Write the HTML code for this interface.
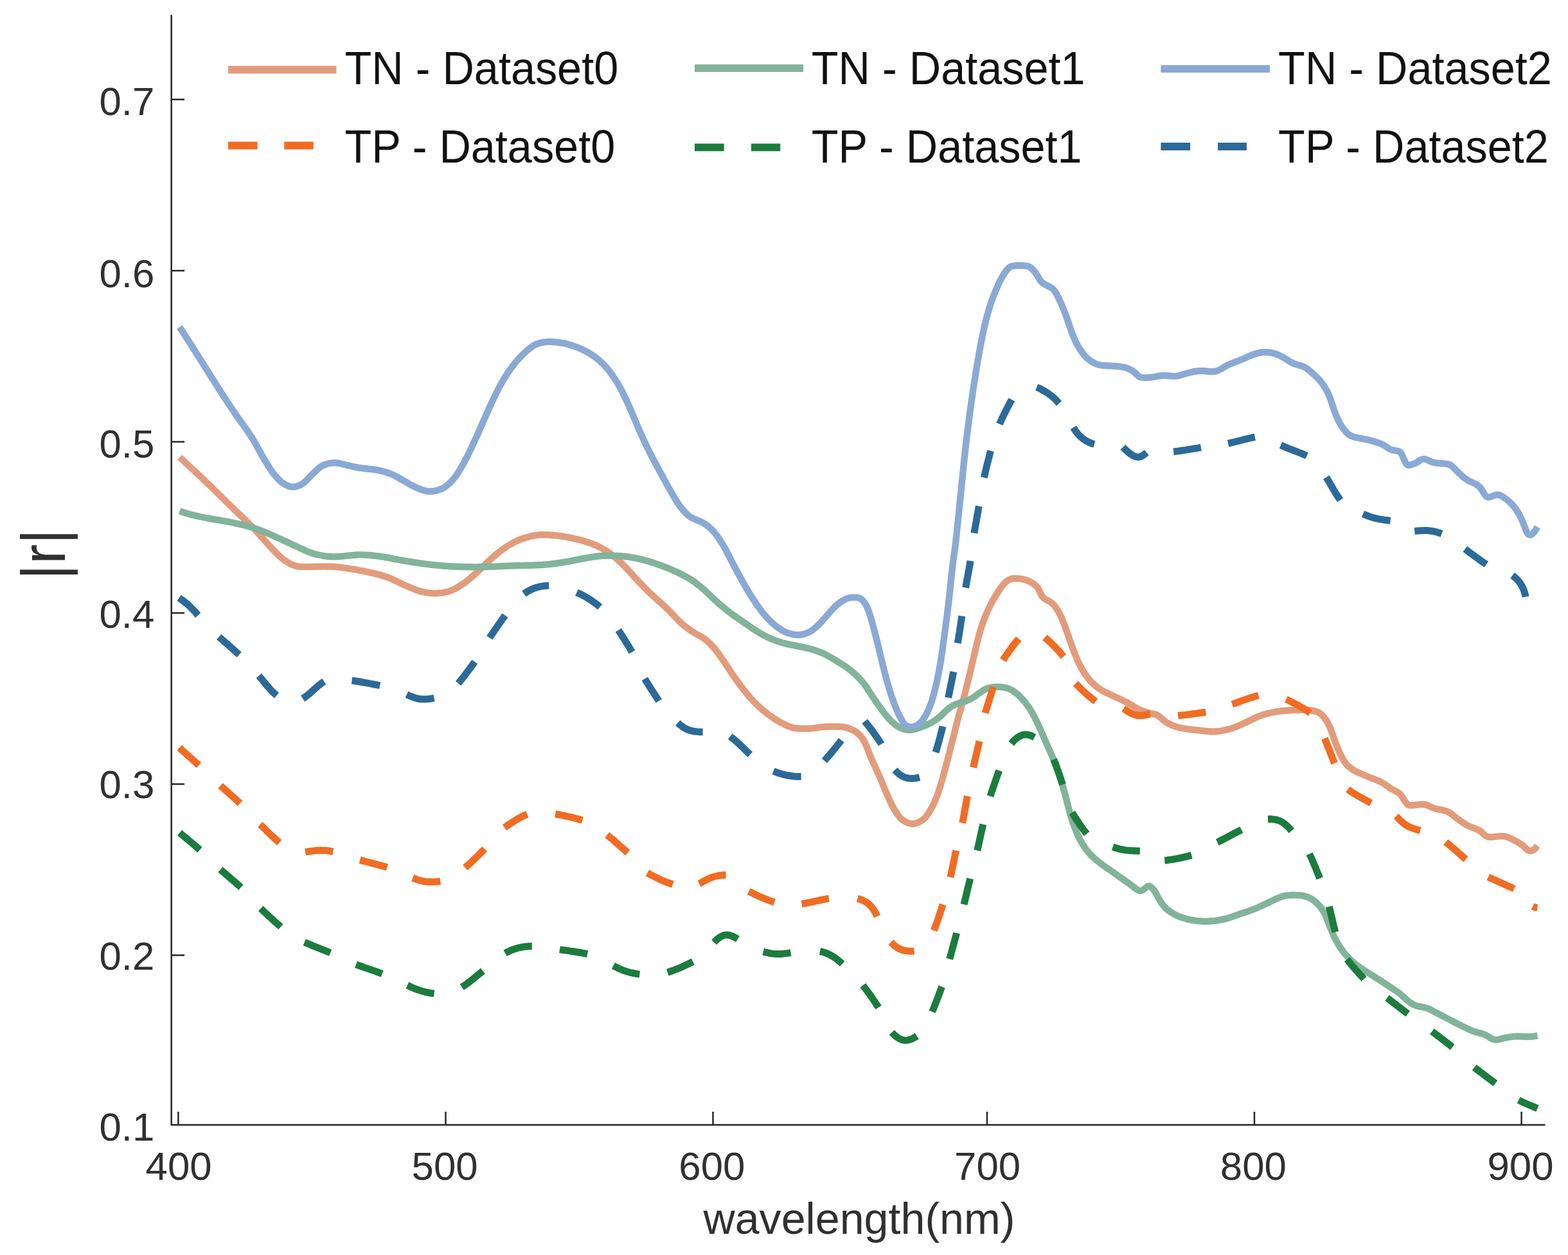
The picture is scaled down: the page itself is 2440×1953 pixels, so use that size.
<!DOCTYPE html>
<html lang="en"><head><meta charset="utf-8"><title>|r| vs wavelength</title>
<style>
html,body{margin:0;padding:0;background:#fff;}
body{width:2440px;height:1953px;overflow:hidden;font-family:"Liberation Sans",sans-serif;}
svg{display:block;}
</style></head><body>
<svg width="2440" height="1953" viewBox="0 0 2440 1953">
<rect width="2440" height="1953" fill="#fff"/>
<g fill="none" stroke-width="11.0" stroke-linecap="butt" stroke-linejoin="round">
<path stroke="#E29C7C" stroke-width="10.4" d="M279.5,711.5 L281.3,713.2 L283.2,714.9 L285.1,716.6 L286.9,718.3 L288.7,720.0 L290.6,721.7 L292.4,723.4 L294.3,725.2 L296.1,726.9 L297.9,728.6 L299.8,730.3 L301.6,732.0 L303.4,733.7 L305.3,735.4 L307.1,737.1 L308.9,738.9 L310.7,740.6 L312.5,742.3 L314.4,744.0 L316.2,745.7 L318.0,747.4 L319.8,749.2 L321.6,750.9 L323.4,752.6 L325.2,754.3 L327.0,756.0 L328.8,757.8 L330.6,759.5 L332.4,761.2 L334.1,763.0 L335.9,764.7 L337.7,766.5 L339.5,768.2 L341.2,770.0 L343.0,771.7 L344.8,773.5 L346.6,775.2 L348.3,777.0 L350.1,778.7 L351.9,780.4 L353.6,782.2 L355.4,783.9 L357.2,785.7 L359.0,787.4 L360.7,789.2 L362.5,790.9 L364.3,792.7 L366.1,794.4 L367.9,796.1 L369.7,797.9 L371.5,799.6 L373.3,801.3 L375.1,803.0 L376.9,804.8 L378.7,806.5 L380.5,808.2 L382.3,809.9 L384.1,811.7 L385.9,813.4 L387.7,815.1 L389.4,816.9 L391.2,818.7 L393.0,820.4 L394.7,822.2 L396.4,824.0 L398.2,825.9 L399.9,827.7 L401.6,829.5 L403.2,831.4 L404.9,833.3 L406.6,835.2 L408.3,837.0 L409.9,838.9 L411.6,840.8 L413.3,842.7 L415.0,844.6 L416.7,846.5 L418.4,848.3 L420.1,850.2 L421.8,852.0 L423.5,853.9 L425.3,855.8 L427.0,857.6 L428.8,859.4 L430.5,861.2 L432.3,862.9 L434.2,864.7 L436.0,866.3 L437.9,868.0 L439.8,869.6 L441.7,871.1 L443.7,872.6 L445.7,874.0 L447.8,875.3 L449.9,876.5 L452.1,877.7 L454.3,878.7 L456.6,879.6 L458.9,880.4 L461.3,881.0 L463.7,881.4 L466.2,881.7 L468.7,881.9 L471.2,882.0 L473.7,882.1 L476.3,882.1 L478.8,882.1 L481.3,882.1 L483.9,882.0 L486.5,881.9 L489.0,881.8 L491.6,881.7 L494.1,881.7 L496.6,881.6 L499.1,881.6 L501.6,881.6 L504.1,881.6 L506.6,881.6 L509.1,881.7 L511.6,881.7 L514.1,881.8 L516.6,881.8 L519.0,881.9 L521.5,882.0 L524.0,882.2 L526.4,882.5 L528.9,882.7 L531.3,883.1 L533.8,883.4 L536.3,883.8 L538.7,884.1 L541.2,884.5 L543.6,884.9 L546.1,885.3 L548.5,885.6 L551.0,886.0 L553.5,886.4 L555.9,886.9 L558.4,887.3 L560.9,887.8 L563.3,888.2 L565.8,888.7 L568.2,889.2 L570.7,889.8 L573.2,890.3 L575.6,890.8 L578.1,891.4 L580.5,891.9 L583.0,892.5 L585.4,893.1 L587.9,893.7 L590.3,894.4 L592.7,895.0 L595.1,895.7 L597.5,896.5 L599.9,897.2 L602.2,898.1 L604.6,898.9 L606.9,899.9 L609.2,900.8 L611.5,901.9 L613.7,902.9 L616.0,904.0 L618.3,905.1 L620.5,906.2 L622.8,907.3 L625.0,908.4 L627.3,909.4 L629.6,910.5 L631.9,911.5 L634.2,912.5 L636.5,913.5 L638.8,914.5 L641.1,915.5 L643.4,916.4 L645.7,917.3 L648.0,918.2 L650.4,919.0 L652.8,919.7 L655.2,920.4 L657.6,921.0 L660.0,921.5 L662.5,922.0 L665.0,922.4 L667.4,922.8 L670.0,923.1 L672.5,923.3 L675.0,923.4 L677.5,923.5 L680.0,923.4 L682.5,923.2 L685.0,922.9 L687.5,922.6 L690.0,922.1 L692.4,921.6 L694.8,921.1 L697.2,920.5 L699.6,919.8 L701.9,919.0 L704.2,918.1 L706.4,917.1 L708.6,915.9 L710.8,914.7 L713.0,913.4 L715.1,912.1 L717.2,910.7 L719.3,909.3 L721.4,907.9 L723.4,906.5 L725.4,905.0 L727.4,903.4 L729.3,901.9 L731.3,900.3 L733.2,898.6 L735.1,897.0 L737.0,895.3 L738.9,893.6 L740.7,891.9 L742.6,890.2 L744.5,888.4 L746.3,886.7 L748.2,885.0 L750.0,883.3 L751.8,881.5 L753.6,879.8 L755.4,878.0 L757.3,876.3 L759.1,874.6 L760.9,872.8 L762.7,871.1 L764.5,869.4 L766.4,867.7 L768.3,866.1 L770.2,864.5 L772.1,862.9 L774.0,861.3 L776.0,859.7 L777.9,858.2 L779.9,856.7 L781.9,855.2 L783.9,853.7 L786.0,852.3 L788.0,850.9 L790.1,849.6 L792.2,848.3 L794.4,847.0 L796.6,845.8 L798.8,844.6 L801.0,843.4 L803.2,842.3 L805.5,841.2 L807.8,840.2 L810.1,839.3 L812.4,838.4 L814.8,837.7 L817.2,837.0 L819.6,836.2 L822.0,835.6 L824.4,834.9 L826.9,834.3 L829.3,833.8 L831.8,833.3 L834.3,832.9 L836.8,832.6 L839.2,832.4 L841.7,832.3 L844.2,832.2 L846.7,832.2 L849.2,832.2 L851.7,832.3 L854.2,832.4 L856.7,832.6 L859.2,832.8 L861.7,833.0 L864.2,833.3 L866.7,833.5 L869.1,833.8 L871.6,834.1 L874.1,834.5 L876.6,834.8 L879.1,835.2 L881.6,835.7 L884.0,836.1 L886.5,836.6 L889.0,837.1 L891.4,837.6 L893.9,838.2 L896.3,838.8 L898.8,839.3 L901.2,839.9 L903.6,840.6 L906.1,841.3 L908.5,842.0 L910.9,842.7 L913.3,843.4 L915.7,844.2 L918.0,845.0 L920.4,845.9 L922.7,846.8 L925.0,847.7 L927.3,848.6 L929.6,849.7 L931.8,850.7 L934.0,851.9 L936.2,853.0 L938.4,854.2 L940.6,855.5 L942.7,856.8 L944.8,858.1 L946.9,859.5 L948.9,860.9 L950.9,862.3 L952.8,863.8 L954.8,865.4 L956.7,867.0 L958.6,868.6 L960.5,870.3 L962.3,872.0 L964.2,873.7 L966.0,875.4 L967.8,877.1 L969.6,878.9 L971.3,880.6 L973.1,882.4 L974.8,884.3 L976.5,886.1 L978.2,888.0 L979.9,889.8 L981.6,891.7 L983.3,893.5 L985.0,895.4 L986.7,897.3 L988.4,899.1 L990.1,901.0 L991.8,902.8 L993.5,904.6 L995.3,906.5 L997.0,908.3 L998.8,910.1 L1000.5,911.9 L1002.3,913.7 L1004.0,915.5 L1005.8,917.2 L1007.6,919.0 L1009.3,920.8 L1011.1,922.5 L1012.9,924.2 L1014.8,925.9 L1016.6,927.6 L1018.4,929.3 L1020.3,930.9 L1022.1,932.6 L1024.0,934.3 L1025.8,935.9 L1027.7,937.6 L1029.5,939.3 L1031.4,940.9 L1033.2,942.6 L1035.0,944.3 L1036.8,946.0 L1038.6,947.8 L1040.4,949.5 L1042.2,951.3 L1043.9,953.1 L1045.6,954.9 L1047.4,956.8 L1049.1,958.6 L1050.8,960.5 L1052.5,962.3 L1054.3,964.1 L1056.0,965.9 L1057.8,967.6 L1059.6,969.3 L1061.5,971.0 L1063.4,972.6 L1065.3,974.2 L1067.3,975.7 L1069.2,977.2 L1071.3,978.7 L1073.3,980.2 L1075.4,981.6 L1077.5,982.9 L1079.6,984.2 L1081.8,985.5 L1084.0,986.7 L1086.2,988.0 L1088.4,989.2 L1090.6,990.4 L1092.7,991.7 L1094.8,993.1 L1096.8,994.6 L1098.8,996.1 L1100.7,997.7 L1102.5,999.4 L1104.3,1001.1 L1106.1,1002.8 L1107.8,1004.6 L1109.5,1006.5 L1111.1,1008.3 L1112.7,1010.2 L1114.3,1012.2 L1115.8,1014.2 L1117.3,1016.2 L1118.8,1018.2 L1120.2,1020.2 L1121.7,1022.3 L1123.1,1024.4 L1124.5,1026.4 L1125.9,1028.5 L1127.4,1030.6 L1128.8,1032.7 L1130.2,1034.8 L1131.5,1036.9 L1132.9,1039.0 L1134.3,1041.1 L1135.7,1043.2 L1137.0,1045.3 L1138.4,1047.3 L1139.8,1049.4 L1141.2,1051.5 L1142.7,1053.6 L1144.1,1055.6 L1145.5,1057.7 L1147.0,1059.7 L1148.5,1061.7 L1150.0,1063.7 L1151.4,1065.7 L1152.9,1067.7 L1154.5,1069.7 L1156.0,1071.7 L1157.5,1073.7 L1159.1,1075.6 L1160.6,1077.5 L1162.2,1079.5 L1163.8,1081.4 L1165.4,1083.3 L1167.0,1085.2 L1168.7,1087.1 L1170.3,1088.9 L1172.0,1090.7 L1173.7,1092.5 L1175.4,1094.3 L1177.2,1096.0 L1179.0,1097.8 L1180.8,1099.5 L1182.7,1101.2 L1184.5,1102.8 L1186.4,1104.5 L1188.4,1106.1 L1190.3,1107.7 L1192.3,1109.2 L1194.3,1110.8 L1196.3,1112.3 L1198.3,1113.8 L1200.4,1115.2 L1202.4,1116.7 L1204.5,1118.1 L1206.7,1119.5 L1208.8,1120.8 L1211.0,1122.1 L1213.2,1123.4 L1215.4,1124.6 L1217.6,1125.7 L1219.9,1126.9 L1222.1,1128.0 L1224.4,1129.1 L1226.8,1130.1 L1229.1,1131.1 L1231.4,1131.9 L1233.8,1132.5 L1236.2,1133.0 L1238.6,1133.2 L1241.0,1133.5 L1243.5,1133.6 L1246.0,1133.7 L1248.5,1133.8 L1251.0,1133.9 L1253.5,1133.9 L1256.0,1133.8 L1258.5,1133.8 L1261.0,1133.7 L1263.5,1133.4 L1266.0,1133.2 L1268.5,1132.8 L1271.0,1132.5 L1273.5,1132.1 L1276.0,1131.8 L1278.5,1131.4 L1281.0,1131.2 L1283.5,1131.0 L1286.0,1130.9 L1288.5,1130.8 L1291.0,1130.7 L1293.5,1130.6 L1296.0,1130.6 L1298.5,1130.6 L1301.1,1130.6 L1303.6,1130.7 L1306.0,1130.8 L1308.5,1130.9 L1311.0,1131.1 L1313.5,1131.5 L1315.9,1132.0 L1318.4,1132.7 L1320.8,1133.5 L1323.2,1134.4 L1325.5,1135.4 L1327.7,1136.4 L1329.8,1137.5 L1331.9,1138.8 L1333.8,1140.3 L1335.7,1142.0 L1337.5,1143.8 L1339.2,1145.6 L1340.8,1147.6 L1342.3,1149.6 L1343.6,1151.6 L1344.9,1153.7 L1346.0,1155.9 L1347.1,1158.2 L1348.1,1160.5 L1349.0,1162.9 L1349.9,1165.3 L1350.8,1167.7 L1351.8,1170.1 L1352.7,1172.5 L1353.6,1174.9 L1354.6,1177.2 L1355.6,1179.5 L1356.6,1181.8 L1357.6,1184.1 L1358.6,1186.4 L1359.7,1188.7 L1360.7,1190.9 L1361.7,1193.2 L1362.7,1195.5 L1363.8,1197.7 L1364.8,1200.0 L1365.8,1202.3 L1366.8,1204.5 L1367.8,1206.8 L1368.8,1209.1 L1369.8,1211.4 L1370.8,1213.7 L1371.8,1216.0 L1372.8,1218.3 L1373.7,1220.5 L1374.7,1222.8 L1375.7,1225.2 L1376.6,1227.5 L1377.6,1229.8 L1378.6,1232.1 L1379.5,1234.4 L1380.5,1236.7 L1381.5,1239.0 L1382.5,1241.3 L1383.5,1243.6 L1384.6,1245.9 L1385.6,1248.2 L1386.7,1250.4 L1387.9,1252.7 L1389.0,1254.9 L1390.2,1257.1 L1391.5,1259.3 L1392.8,1261.5 L1394.1,1263.6 L1395.5,1265.6 L1396.9,1267.7 L1398.4,1269.8 L1400.0,1271.8 L1401.7,1273.6 L1403.5,1275.3 L1405.4,1276.7 L1407.5,1278.0 L1409.7,1279.3 L1412.1,1280.3 L1414.5,1281.2 L1417.0,1281.8 L1419.4,1282.0 L1421.8,1281.9 L1424.3,1281.4 L1426.8,1280.7 L1429.2,1279.7 L1431.5,1278.6 L1433.7,1277.3 L1435.7,1275.9 L1437.5,1274.4 L1439.3,1272.7 L1441.0,1270.8 L1442.6,1268.7 L1444.0,1266.6 L1445.5,1264.4 L1446.8,1262.2 L1448.1,1260.0 L1449.3,1257.9 L1450.5,1255.7 L1451.7,1253.5 L1452.8,1251.2 L1453.8,1248.9 L1454.8,1246.6 L1455.8,1244.3 L1456.8,1242.0 L1457.7,1239.7 L1458.6,1237.4 L1459.4,1235.0 L1460.2,1232.7 L1461.0,1230.3 L1461.8,1227.9 L1462.6,1225.6 L1463.3,1223.2 L1464.0,1220.8 L1464.7,1218.4 L1465.4,1216.0 L1466.1,1213.6 L1466.7,1211.2 L1467.4,1208.8 L1468.0,1206.3 L1468.7,1203.9 L1469.4,1201.5 L1470.0,1199.1 L1470.7,1196.7 L1471.3,1194.3 L1472.0,1191.9 L1472.6,1189.5 L1473.3,1187.0 L1473.9,1184.6 L1474.5,1182.2 L1475.2,1179.8 L1475.8,1177.4 L1476.4,1174.9 L1477.1,1172.5 L1477.7,1170.1 L1478.3,1167.7 L1478.9,1165.2 L1479.5,1162.8 L1480.1,1160.4 L1480.7,1158.0 L1481.4,1155.5 L1482.0,1153.1 L1482.6,1150.7 L1483.2,1148.2 L1483.8,1145.8 L1484.4,1143.4 L1485.0,1141.0 L1485.6,1138.5 L1486.2,1136.1 L1486.8,1133.7 L1487.4,1131.3 L1488.0,1128.8 L1488.7,1126.4 L1489.3,1124.0 L1489.9,1121.6 L1490.6,1119.2 L1491.2,1116.7 L1491.9,1114.3 L1492.5,1111.9 L1493.2,1109.5 L1493.9,1107.1 L1494.5,1104.7 L1495.2,1102.3 L1495.9,1099.9 L1496.6,1097.5 L1497.2,1095.1 L1497.9,1092.7 L1498.6,1090.3 L1499.2,1087.9 L1499.9,1085.5 L1500.5,1083.0 L1501.2,1080.6 L1501.8,1078.2 L1502.4,1075.8 L1503.0,1073.4 L1503.6,1071.0 L1504.2,1068.5 L1504.8,1066.1 L1505.4,1063.7 L1506.0,1061.3 L1506.6,1058.8 L1507.2,1056.4 L1507.8,1054.0 L1508.4,1051.5 L1509.0,1049.1 L1509.6,1046.7 L1510.1,1044.2 L1510.7,1041.8 L1511.3,1039.4 L1511.9,1036.9 L1512.4,1034.5 L1513.0,1032.0 L1513.6,1029.6 L1514.1,1027.2 L1514.7,1024.7 L1515.3,1022.3 L1515.8,1019.8 L1516.4,1017.4 L1517.0,1015.0 L1517.6,1012.5 L1518.2,1010.1 L1518.7,1007.7 L1519.3,1005.2 L1519.9,1002.8 L1520.5,1000.4 L1521.1,997.9 L1521.7,995.5 L1522.3,993.1 L1522.9,990.6 L1523.5,988.2 L1524.2,985.8 L1524.8,983.4 L1525.5,981.0 L1526.2,978.6 L1527.0,976.3 L1527.7,973.9 L1528.5,971.5 L1529.4,969.2 L1530.2,966.8 L1531.1,964.5 L1532.0,962.2 L1532.9,959.9 L1533.9,957.6 L1534.9,955.3 L1535.9,953.0 L1536.9,950.7 L1537.9,948.4 L1539.0,946.2 L1540.1,943.9 L1541.2,941.7 L1542.3,939.5 L1543.5,937.2 L1544.7,935.0 L1545.9,932.8 L1547.2,930.6 L1548.5,928.5 L1549.8,926.3 L1551.1,924.2 L1552.5,922.0 L1553.9,919.9 L1555.3,917.7 L1556.7,915.5 L1558.2,913.4 L1559.7,911.4 L1561.3,909.5 L1563.0,907.7 L1564.7,906.0 L1566.6,904.6 L1568.6,903.2 L1570.8,901.9 L1573.1,900.9 L1575.4,900.4 L1577.8,900.2 L1580.2,900.1 L1582.8,900.2 L1585.3,900.4 L1587.9,900.7 L1590.4,901.1 L1592.9,901.6 L1595.4,902.3 L1597.9,903.1 L1600.3,904.1 L1602.6,905.2 L1604.8,906.3 L1606.9,907.6 L1608.9,909.0 L1610.8,910.6 L1612.6,912.4 L1614.2,914.2 L1615.6,916.2 L1616.8,918.4 L1617.9,920.7 L1619.0,923.1 L1620.2,925.3 L1621.4,927.5 L1622.9,929.4 L1624.6,931.0 L1626.6,932.4 L1628.7,933.6 L1631.0,934.8 L1633.3,936.0 L1635.4,937.4 L1637.3,938.9 L1639.1,940.6 L1640.7,942.4 L1642.3,944.4 L1643.8,946.5 L1645.2,948.6 L1646.5,950.8 L1647.8,953.1 L1648.9,955.3 L1650.1,957.5 L1651.1,959.8 L1652.2,962.1 L1653.1,964.3 L1654.1,966.6 L1655.0,968.9 L1655.9,971.3 L1656.7,973.6 L1657.6,975.9 L1658.4,978.3 L1659.3,980.6 L1660.1,982.9 L1661.0,985.3 L1661.8,987.6 L1662.6,990.0 L1663.4,992.3 L1664.3,994.7 L1665.1,997.1 L1665.9,999.5 L1666.8,1001.8 L1667.6,1004.2 L1668.5,1006.6 L1669.3,1009.0 L1670.2,1011.3 L1671.1,1013.7 L1672.0,1016.0 L1673.0,1018.4 L1673.9,1020.7 L1674.9,1023.0 L1675.9,1025.4 L1676.9,1027.7 L1677.9,1030.0 L1679.0,1032.2 L1680.1,1034.5 L1681.2,1036.7 L1682.4,1038.9 L1683.6,1041.1 L1684.8,1043.3 L1686.1,1045.4 L1687.5,1047.5 L1688.9,1049.6 L1690.3,1051.6 L1691.8,1053.6 L1693.3,1055.5 L1694.9,1057.4 L1696.5,1059.3 L1698.2,1061.1 L1699.9,1062.9 L1701.7,1064.6 L1703.6,1066.3 L1705.5,1067.9 L1707.4,1069.4 L1709.4,1070.9 L1711.4,1072.3 L1713.5,1073.6 L1715.6,1074.9 L1717.8,1076.0 L1720.0,1077.2 L1722.3,1078.3 L1724.6,1079.4 L1726.9,1080.5 L1729.2,1081.5 L1731.5,1082.6 L1733.8,1083.7 L1736.1,1084.8 L1738.4,1085.8 L1740.7,1086.9 L1743.0,1088.0 L1745.3,1089.1 L1747.6,1090.2 L1749.8,1091.3 L1752.1,1092.4 L1754.3,1093.5 L1756.5,1094.7 L1758.7,1096.0 L1760.8,1097.2 L1763.0,1098.5 L1765.1,1099.8 L1767.2,1101.1 L1769.4,1102.4 L1771.5,1103.5 L1773.7,1104.6 L1776.0,1105.6 L1778.2,1106.5 L1780.6,1107.3 L1782.9,1108.1 L1785.3,1108.8 L1787.7,1109.4 L1790.2,1110.0 L1792.7,1110.5 L1795.2,1111.1 L1797.6,1111.7 L1799.9,1112.5 L1802.1,1113.6 L1804.1,1115.0 L1806.1,1116.6 L1808.0,1118.3 L1809.9,1120.1 L1811.8,1121.7 L1813.8,1123.2 L1815.9,1124.5 L1818.1,1125.7 L1820.3,1126.9 L1822.5,1128.0 L1824.8,1129.0 L1827.1,1129.9 L1829.5,1130.7 L1831.8,1131.4 L1834.2,1132.1 L1836.6,1132.6 L1839.1,1133.1 L1841.5,1133.5 L1844.0,1133.9 L1846.5,1134.3 L1849.0,1134.7 L1851.5,1135.0 L1854.0,1135.3 L1856.5,1135.6 L1859.1,1135.8 L1861.6,1136.1 L1864.1,1136.4 L1866.6,1136.7 L1869.1,1137.0 L1871.6,1137.3 L1874.1,1137.5 L1876.6,1137.8 L1879.1,1138.0 L1881.6,1138.2 L1884.1,1138.3 L1886.6,1138.4 L1889.1,1138.4 L1891.5,1138.3 L1894.0,1138.2 L1896.5,1137.9 L1898.9,1137.6 L1901.4,1137.2 L1903.8,1136.7 L1906.3,1136.2 L1908.7,1135.6 L1911.1,1135.0 L1913.5,1134.4 L1915.9,1133.7 L1918.3,1132.9 L1920.6,1132.1 L1922.9,1131.3 L1925.3,1130.3 L1927.6,1129.3 L1929.9,1128.3 L1932.2,1127.3 L1934.5,1126.2 L1936.8,1125.1 L1939.1,1124.0 L1941.4,1122.9 L1943.7,1121.8 L1945.9,1120.8 L1948.2,1119.6 L1950.5,1118.5 L1952.7,1117.4 L1954.9,1116.3 L1957.2,1115.3 L1959.5,1114.4 L1961.9,1113.6 L1964.2,1112.8 L1966.6,1112.0 L1969.0,1111.3 L1971.4,1110.6 L1973.8,1110.0 L1976.2,1109.5 L1978.6,1109.0 L1981.1,1108.5 L1983.5,1108.0 L1986.0,1107.6 L1988.4,1107.2 L1990.9,1106.9 L1993.3,1106.5 L1995.8,1106.3 L1998.3,1106.0 L2000.8,1105.8 L2003.3,1105.7 L2005.8,1105.5 L2008.3,1105.4 L2010.8,1105.3 L2013.3,1105.2 L2015.8,1105.1 L2018.3,1105.0 L2020.8,1105.0 L2023.4,1105.0 L2025.9,1104.9 L2028.4,1104.9 L2031.0,1104.9 L2033.5,1105.0 L2036.1,1105.2 L2038.7,1105.4 L2041.2,1105.7 L2043.7,1106.1 L2046.1,1106.6 L2048.4,1107.2 L2050.6,1108.1 L2052.7,1109.3 L2054.8,1110.8 L2056.7,1112.5 L2058.5,1114.3 L2060.2,1116.1 L2061.7,1118.0 L2063.2,1120.0 L2064.5,1122.1 L2065.7,1124.3 L2066.9,1126.5 L2068.0,1128.7 L2069.1,1131.0 L2070.1,1133.3 L2071.0,1135.6 L2071.9,1137.9 L2072.7,1140.3 L2073.5,1142.6 L2074.4,1145.0 L2075.2,1147.4 L2076.0,1149.8 L2076.9,1152.2 L2077.8,1154.5 L2078.7,1156.9 L2079.6,1159.3 L2080.5,1161.7 L2081.5,1164.0 L2082.4,1166.4 L2083.4,1168.7 L2084.5,1171.0 L2085.5,1173.2 L2086.7,1175.5 L2087.8,1177.7 L2089.0,1180.0 L2090.2,1182.2 L2091.5,1184.3 L2092.9,1186.4 L2094.4,1188.3 L2095.9,1190.2 L2097.6,1191.9 L2099.4,1193.5 L2101.4,1195.0 L2103.4,1196.5 L2105.5,1197.9 L2107.7,1199.2 L2109.8,1200.4 L2112.0,1201.5 L2114.3,1202.6 L2116.6,1203.6 L2118.9,1204.6 L2121.2,1205.6 L2123.6,1206.5 L2125.9,1207.5 L2128.3,1208.4 L2130.6,1209.4 L2132.9,1210.3 L2135.3,1211.2 L2137.6,1212.1 L2139.9,1213.1 L2142.3,1214.0 L2144.5,1215.0 L2146.8,1216.0 L2149.0,1217.1 L2151.2,1218.3 L2153.3,1219.5 L2155.4,1220.9 L2157.5,1222.4 L2159.5,1223.8 L2161.6,1225.3 L2163.6,1226.7 L2165.8,1228.1 L2167.9,1229.3 L2170.2,1230.4 L2172.5,1231.6 L2174.6,1232.8 L2176.7,1234.1 L2178.5,1235.7 L2180.1,1237.6 L2181.6,1239.7 L2183.0,1241.9 L2184.4,1244.0 L2185.8,1246.2 L2187.3,1248.4 L2188.9,1250.5 L2190.6,1252.2 L2192.4,1253.0 L2194.6,1253.2 L2197.0,1253.2 L2199.6,1253.1 L2202.2,1252.8 L2204.8,1252.5 L2207.3,1252.2 L2209.8,1251.9 L2212.3,1251.7 L2214.8,1251.6 L2217.2,1251.8 L2219.5,1252.5 L2221.8,1253.5 L2224.1,1254.6 L2226.4,1255.8 L2228.7,1256.8 L2231.0,1257.6 L2233.4,1258.3 L2235.9,1258.9 L2238.4,1259.4 L2240.9,1259.9 L2243.3,1260.4 L2245.8,1261.0 L2248.2,1261.6 L2250.5,1262.3 L2252.7,1263.2 L2254.9,1264.3 L2256.9,1265.6 L2259.0,1267.1 L2260.9,1268.6 L2262.9,1270.2 L2264.9,1271.8 L2266.9,1273.3 L2269.0,1274.8 L2271.0,1276.3 L2273.0,1277.8 L2275.1,1279.2 L2277.2,1280.6 L2279.3,1282.0 L2281.4,1283.3 L2283.6,1284.5 L2285.8,1285.6 L2288.1,1286.6 L2290.4,1287.5 L2292.8,1288.4 L2295.1,1289.3 L2297.5,1290.2 L2299.8,1291.2 L2302.0,1292.4 L2304.1,1293.8 L2306.1,1295.5 L2308.0,1297.4 L2310.0,1299.1 L2312.0,1300.6 L2314.0,1301.8 L2316.2,1302.4 L2318.5,1302.5 L2320.8,1302.5 L2323.3,1302.4 L2325.8,1302.2 L2328.4,1301.9 L2331.0,1301.6 L2333.5,1301.3 L2336.1,1301.2 L2338.6,1301.2 L2341.0,1301.4 L2343.4,1302.0 L2345.8,1302.7 L2348.2,1303.7 L2350.5,1304.7 L2352.8,1305.8 L2355.1,1306.9 L2357.3,1308.0 L2359.5,1309.2 L2361.7,1310.4 L2363.9,1311.8 L2366.0,1313.2 L2368.1,1314.6 L2370.1,1316.2 L2372.0,1318.1 L2374.0,1320.0 L2375.9,1321.7 L2377.8,1323.1 L2379.8,1323.9 L2381.8,1324.1 L2383.8,1323.7 L2385.9,1322.9 L2388.0,1321.4 L2390.2,1319.2 L2392.5,1316.2"/>
<path stroke="#82B39B" stroke-width="10.4" d="M279.5,795.3 L281.9,796.1 L284.2,796.9 L286.6,797.7 L289.0,798.4 L291.4,799.1 L293.8,799.8 L296.2,800.5 L298.6,801.1 L301.1,801.7 L303.5,802.3 L305.9,802.9 L308.4,803.5 L310.8,804.0 L313.3,804.5 L315.7,805.0 L318.2,805.5 L320.6,806.0 L323.1,806.5 L325.6,806.9 L328.0,807.4 L330.5,807.8 L333.0,808.2 L335.5,808.6 L338.0,809.0 L340.4,809.4 L342.9,809.8 L345.4,810.3 L347.9,810.7 L350.3,811.1 L352.8,811.5 L355.3,812.0 L357.7,812.5 L360.2,813.0 L362.6,813.5 L365.1,814.0 L367.5,814.5 L370.0,815.0 L372.4,815.6 L374.8,816.1 L377.3,816.7 L379.7,817.3 L382.1,817.9 L384.5,818.6 L386.9,819.2 L389.3,819.9 L391.7,820.6 L394.0,821.4 L396.4,822.2 L398.7,823.0 L401.1,823.8 L403.4,824.7 L405.7,825.6 L408.1,826.5 L410.4,827.4 L412.7,828.4 L415.0,829.3 L417.3,830.3 L419.6,831.3 L421.9,832.3 L424.2,833.3 L426.5,834.3 L428.8,835.4 L431.1,836.4 L433.4,837.4 L435.7,838.4 L438.0,839.5 L440.3,840.5 L442.5,841.6 L444.8,842.6 L447.1,843.7 L449.4,844.8 L451.7,845.9 L453.9,846.9 L456.2,848.0 L458.5,849.1 L460.8,850.1 L463.1,851.1 L465.4,852.2 L467.7,853.2 L470.0,854.3 L472.3,855.4 L474.6,856.4 L476.9,857.4 L479.2,858.4 L481.5,859.4 L483.8,860.2 L486.2,861.0 L488.5,861.8 L490.9,862.4 L493.3,863.0 L495.7,863.5 L498.1,864.0 L500.5,864.5 L503.0,865.0 L505.5,865.4 L507.9,865.7 L510.4,866.0 L512.9,866.2 L515.4,866.3 L517.9,866.4 L520.3,866.4 L522.8,866.3 L525.3,866.2 L527.8,866.1 L530.4,865.9 L532.9,865.6 L535.4,865.4 L537.9,865.1 L540.4,864.8 L542.9,864.6 L545.5,864.3 L548.0,864.1 L550.5,863.9 L553.0,863.7 L555.5,863.5 L558.0,863.4 L560.5,863.4 L563.0,863.4 L565.5,863.5 L568.0,863.6 L570.5,863.7 L573.0,863.9 L575.5,864.1 L578.0,864.3 L580.5,864.6 L583.0,864.9 L585.4,865.1 L587.9,865.4 L590.4,865.7 L592.8,866.1 L595.3,866.4 L597.8,866.8 L600.2,867.3 L602.7,867.7 L605.2,868.2 L607.6,868.6 L610.1,869.1 L612.5,869.6 L615.0,870.1 L617.5,870.5 L619.9,871.0 L622.4,871.5 L624.8,871.9 L627.3,872.4 L629.8,872.8 L632.3,873.2 L634.7,873.6 L637.2,874.0 L639.7,874.4 L642.1,874.8 L644.6,875.2 L647.1,875.5 L649.6,875.9 L652.1,876.3 L654.5,876.6 L657.0,877.0 L659.5,877.3 L662.0,877.6 L664.5,877.9 L667.0,878.2 L669.4,878.5 L671.9,878.8 L674.4,879.1 L676.9,879.3 L679.4,879.6 L681.9,879.8 L684.4,880.0 L686.9,880.3 L689.4,880.5 L691.9,880.7 L694.3,880.9 L696.8,881.0 L699.3,881.2 L701.8,881.4 L704.3,881.5 L706.8,881.6 L709.3,881.7 L711.8,881.8 L714.3,881.9 L716.8,882.0 L719.3,882.1 L721.8,882.1 L724.3,882.2 L726.8,882.2 L729.3,882.3 L731.8,882.3 L734.3,882.3 L736.8,882.4 L739.3,882.4 L741.8,882.4 L744.3,882.3 L746.9,882.3 L749.4,882.3 L751.9,882.2 L754.4,882.1 L756.9,882.1 L759.4,882.0 L761.9,881.9 L764.4,881.8 L766.9,881.7 L769.4,881.6 L771.9,881.5 L774.4,881.4 L776.9,881.2 L779.4,881.1 L781.9,881.0 L784.4,880.9 L786.9,880.8 L789.4,880.7 L791.9,880.6 L794.4,880.5 L796.9,880.5 L799.4,880.4 L801.9,880.3 L804.4,880.3 L806.9,880.2 L809.4,880.1 L811.9,880.1 L814.4,880.0 L816.9,880.0 L819.4,879.9 L821.9,879.8 L824.4,879.8 L826.9,879.7 L829.4,879.6 L831.9,879.5 L834.4,879.4 L836.9,879.3 L839.3,879.2 L841.8,879.1 L844.3,879.0 L846.8,878.8 L849.3,878.6 L851.8,878.4 L854.3,878.1 L856.8,877.8 L859.2,877.5 L861.7,877.2 L864.2,876.9 L866.7,876.5 L869.2,876.2 L871.6,875.8 L874.1,875.4 L876.6,875.0 L879.1,874.6 L881.5,874.2 L884.0,873.8 L886.5,873.4 L888.9,872.9 L891.4,872.4 L893.9,871.9 L896.3,871.4 L898.8,870.9 L901.2,870.4 L903.7,869.9 L906.2,869.4 L908.6,868.9 L911.1,868.5 L913.6,868.1 L916.0,867.7 L918.5,867.3 L921.0,866.8 L923.5,866.5 L925.9,866.1 L928.4,865.7 L930.9,865.5 L933.4,865.2 L935.9,865.0 L938.4,864.9 L940.9,864.8 L943.3,864.8 L945.8,864.7 L948.3,864.7 L950.8,864.7 L953.3,864.8 L955.8,864.9 L958.3,864.9 L960.8,865.0 L963.3,865.2 L965.8,865.3 L968.3,865.5 L970.8,865.7 L973.3,866.0 L975.8,866.3 L978.2,866.6 L980.7,867.0 L983.2,867.5 L985.7,867.9 L988.1,868.4 L990.6,868.9 L993.0,869.4 L995.5,869.9 L997.9,870.5 L1000.4,871.1 L1002.8,871.7 L1005.2,872.4 L1007.6,873.1 L1010.0,873.8 L1012.4,874.6 L1014.8,875.3 L1017.2,876.1 L1019.6,876.9 L1022.0,877.7 L1024.3,878.5 L1026.7,879.4 L1029.1,880.2 L1031.4,881.1 L1033.8,882.0 L1036.1,882.9 L1038.4,883.8 L1040.7,884.8 L1043.1,885.7 L1045.4,886.7 L1047.6,887.7 L1049.9,888.8 L1052.2,889.8 L1054.5,890.8 L1056.7,891.9 L1059.0,893.0 L1061.2,894.1 L1063.4,895.3 L1065.6,896.4 L1067.8,897.6 L1070.0,898.9 L1072.1,900.1 L1074.2,901.4 L1076.3,902.8 L1078.4,904.2 L1080.4,905.6 L1082.5,907.1 L1084.5,908.6 L1086.4,910.1 L1088.4,911.6 L1090.3,913.2 L1092.2,914.8 L1094.1,916.5 L1096.0,918.1 L1097.8,919.8 L1099.6,921.6 L1101.5,923.3 L1103.3,925.0 L1105.1,926.8 L1106.9,928.5 L1108.7,930.2 L1110.6,931.9 L1112.4,933.6 L1114.3,935.3 L1116.2,937.0 L1118.0,938.6 L1119.9,940.3 L1121.8,941.9 L1123.7,943.5 L1125.7,945.2 L1127.6,946.7 L1129.5,948.3 L1131.5,949.9 L1133.5,951.4 L1135.4,952.9 L1137.4,954.4 L1139.4,955.9 L1141.5,957.4 L1143.5,958.8 L1145.5,960.3 L1147.6,961.7 L1149.6,963.1 L1151.7,964.6 L1153.8,966.0 L1155.8,967.4 L1157.9,968.8 L1160.0,970.2 L1162.0,971.6 L1164.1,973.1 L1166.2,974.5 L1168.2,975.9 L1170.3,977.4 L1172.4,978.8 L1174.5,980.2 L1176.6,981.6 L1178.7,982.9 L1180.8,984.2 L1182.9,985.5 L1185.1,986.7 L1187.3,987.9 L1189.5,989.1 L1191.7,990.2 L1194.0,991.4 L1196.2,992.4 L1198.5,993.5 L1200.8,994.5 L1203.1,995.4 L1205.4,996.3 L1207.8,997.2 L1210.1,998.0 L1212.5,998.8 L1214.9,999.5 L1217.3,1000.2 L1219.7,1000.8 L1222.2,1001.5 L1224.6,1002.1 L1227.1,1002.6 L1229.5,1003.2 L1232.0,1003.7 L1234.4,1004.2 L1236.9,1004.7 L1239.4,1005.2 L1241.9,1005.7 L1244.3,1006.1 L1246.8,1006.6 L1249.3,1007.1 L1251.7,1007.6 L1254.2,1008.1 L1256.6,1008.6 L1259.0,1009.2 L1261.4,1009.9 L1263.8,1010.6 L1266.2,1011.3 L1268.6,1012.1 L1270.9,1012.9 L1273.3,1013.7 L1275.6,1014.6 L1277.9,1015.5 L1280.1,1016.5 L1282.4,1017.5 L1284.6,1018.6 L1286.8,1019.8 L1289.0,1021.0 L1291.2,1022.2 L1293.4,1023.4 L1295.5,1024.7 L1297.7,1026.0 L1299.9,1027.3 L1302.0,1028.6 L1304.2,1029.9 L1306.4,1031.2 L1308.5,1032.5 L1310.6,1033.9 L1312.8,1035.3 L1314.9,1036.7 L1316.9,1038.1 L1319.0,1039.6 L1321.0,1041.1 L1323.0,1042.6 L1324.9,1044.2 L1326.8,1045.8 L1328.7,1047.5 L1330.6,1049.1 L1332.4,1050.8 L1334.2,1052.6 L1336.0,1054.4 L1337.7,1056.2 L1339.4,1058.0 L1341.0,1059.9 L1342.6,1061.8 L1344.1,1063.7 L1345.6,1065.7 L1347.1,1067.7 L1348.5,1069.8 L1349.9,1071.8 L1351.2,1073.9 L1352.6,1076.0 L1354.0,1078.2 L1355.3,1080.3 L1356.7,1082.4 L1358.1,1084.5 L1359.5,1086.6 L1360.9,1088.6 L1362.3,1090.7 L1363.7,1092.8 L1365.1,1094.8 L1366.5,1096.9 L1368.0,1098.9 L1369.5,1101.0 L1370.9,1103.0 L1372.4,1105.0 L1374.0,1107.0 L1375.5,1109.0 L1377.0,1111.0 L1378.6,1112.9 L1380.2,1114.9 L1381.8,1116.8 L1383.5,1118.7 L1385.2,1120.5 L1386.9,1122.3 L1388.8,1123.9 L1390.7,1125.6 L1392.6,1127.3 L1394.6,1128.8 L1396.7,1130.3 L1398.8,1131.6 L1401.0,1132.7 L1403.2,1133.6 L1405.6,1134.4 L1407.9,1135.0 L1410.4,1135.6 L1412.8,1135.9 L1415.3,1136.0 L1417.8,1135.9 L1420.3,1135.5 L1422.8,1135.0 L1425.2,1134.3 L1427.7,1133.5 L1430.2,1132.6 L1432.6,1131.8 L1435.0,1130.9 L1437.4,1130.0 L1439.7,1129.1 L1442.1,1128.1 L1444.3,1127.0 L1446.6,1125.9 L1448.8,1124.8 L1450.9,1123.6 L1453.0,1122.3 L1455.1,1121.0 L1457.1,1119.5 L1459.1,1118.1 L1461.0,1116.5 L1463.0,1114.9 L1464.8,1113.3 L1466.6,1111.5 L1468.4,1109.7 L1470.1,1107.9 L1471.9,1106.2 L1473.8,1104.5 L1475.7,1102.9 L1477.7,1101.4 L1479.8,1099.9 L1481.9,1098.6 L1484.1,1097.4 L1486.3,1096.4 L1488.6,1095.5 L1491.0,1094.7 L1493.4,1094.0 L1495.9,1093.3 L1498.3,1092.5 L1500.7,1091.8 L1503.1,1090.9 L1505.4,1090.0 L1507.7,1089.0 L1510.0,1088.0 L1512.2,1086.8 L1514.3,1085.6 L1516.4,1084.2 L1518.4,1082.8 L1520.4,1081.2 L1522.4,1079.7 L1524.5,1078.2 L1526.5,1076.8 L1528.6,1075.4 L1530.8,1074.0 L1533.0,1072.7 L1535.3,1071.6 L1537.6,1070.8 L1540.0,1070.2 L1542.4,1069.8 L1544.9,1069.4 L1547.5,1069.1 L1550.0,1068.9 L1552.5,1068.9 L1555.0,1068.9 L1557.6,1069.1 L1560.1,1069.4 L1562.5,1069.8 L1565.0,1070.3 L1567.3,1070.8 L1569.6,1071.7 L1571.9,1072.7 L1574.1,1073.9 L1576.2,1075.2 L1578.3,1076.6 L1580.3,1078.0 L1582.3,1079.5 L1584.2,1081.1 L1586.0,1082.8 L1587.8,1084.6 L1589.5,1086.4 L1591.2,1088.3 L1592.9,1090.2 L1594.5,1092.1 L1596.1,1094.1 L1597.6,1096.1 L1599.1,1098.2 L1600.6,1100.2 L1602.0,1102.3 L1603.4,1104.5 L1604.7,1106.6 L1606.0,1108.8 L1607.2,1111.0 L1608.4,1113.2 L1609.6,1115.4 L1610.7,1117.6 L1611.8,1119.9 L1612.9,1122.1 L1614.0,1124.4 L1615.1,1126.6 L1616.1,1128.9 L1617.2,1131.1 L1618.2,1133.4 L1619.2,1135.7 L1620.2,1138.0 L1621.2,1140.2 L1622.2,1142.5 L1623.2,1144.8 L1624.2,1147.1 L1625.2,1149.4 L1626.2,1151.7 L1627.2,1153.9 L1628.2,1156.2 L1629.2,1158.5 L1630.2,1160.8 L1631.3,1163.1 L1632.3,1165.4 L1633.3,1167.7 L1634.3,1169.9 L1635.3,1172.2 L1636.3,1174.5 L1637.3,1176.9 L1638.2,1179.2 L1639.2,1181.5 L1640.1,1183.8 L1641.0,1186.2 L1641.9,1188.5 L1642.8,1190.8 L1643.7,1193.2 L1644.6,1195.5 L1645.5,1197.9 L1646.3,1200.3 L1647.1,1202.6 L1648.0,1205.0 L1648.8,1207.4 L1649.6,1209.7 L1650.3,1212.1 L1651.1,1214.5 L1651.8,1216.9 L1652.6,1219.3 L1653.3,1221.7 L1654.0,1224.1 L1654.7,1226.5 L1655.4,1228.9 L1656.0,1231.3 L1656.7,1233.7 L1657.4,1236.1 L1658.0,1238.5 L1658.6,1240.9 L1659.3,1243.3 L1659.9,1245.8 L1660.5,1248.2 L1661.1,1250.6 L1661.7,1253.0 L1662.3,1255.5 L1662.9,1257.9 L1663.6,1260.3 L1664.2,1262.7 L1664.9,1265.1 L1665.6,1267.5 L1666.3,1269.9 L1667.0,1272.3 L1667.8,1274.7 L1668.5,1277.1 L1669.3,1279.5 L1670.1,1281.9 L1671.0,1284.2 L1671.8,1286.6 L1672.7,1288.9 L1673.7,1291.3 L1674.6,1293.6 L1675.6,1295.9 L1676.6,1298.2 L1677.7,1300.5 L1678.8,1302.7 L1679.9,1305.0 L1681.0,1307.2 L1682.2,1309.4 L1683.5,1311.6 L1684.8,1313.7 L1686.1,1315.9 L1687.5,1318.0 L1688.9,1320.0 L1690.3,1322.1 L1691.8,1324.0 L1693.4,1326.0 L1695.0,1327.8 L1696.7,1329.7 L1698.4,1331.4 L1700.2,1333.2 L1702.1,1334.9 L1704.0,1336.6 L1705.9,1338.2 L1707.8,1339.8 L1709.8,1341.4 L1711.7,1342.9 L1713.7,1344.5 L1715.8,1346.0 L1717.8,1347.4 L1719.8,1348.9 L1721.9,1350.3 L1724.0,1351.8 L1726.0,1353.2 L1728.1,1354.6 L1730.1,1356.0 L1732.2,1357.4 L1734.2,1358.9 L1736.2,1360.3 L1738.3,1361.7 L1740.3,1363.2 L1742.3,1364.6 L1744.4,1366.0 L1746.4,1367.5 L1748.4,1368.9 L1750.5,1370.4 L1752.5,1371.8 L1754.5,1373.3 L1756.6,1374.8 L1758.6,1376.3 L1760.7,1377.8 L1762.8,1379.4 L1764.9,1380.9 L1767.0,1382.6 L1769.1,1384.2 L1771.2,1385.5 L1773.4,1386.2 L1775.6,1386.2 L1777.8,1385.3 L1780.0,1383.9 L1782.0,1382.3 L1784.0,1380.5 L1786.0,1379.2 L1788.0,1378.8 L1790.0,1379.7 L1792.1,1381.3 L1793.9,1383.1 L1795.5,1385.0 L1796.9,1387.0 L1798.2,1389.2 L1799.5,1391.5 L1800.7,1393.7 L1801.9,1396.0 L1803.2,1398.2 L1804.5,1400.4 L1805.8,1402.6 L1807.2,1404.7 L1808.6,1406.8 L1810.1,1408.8 L1811.7,1410.7 L1813.4,1412.5 L1815.1,1414.2 L1817.0,1415.8 L1819.0,1417.3 L1821.1,1418.8 L1823.2,1420.2 L1825.4,1421.5 L1827.6,1422.8 L1829.8,1423.9 L1832.0,1424.9 L1834.3,1425.9 L1836.7,1426.9 L1839.0,1427.8 L1841.4,1428.6 L1843.9,1429.3 L1846.3,1430.0 L1848.7,1430.6 L1851.2,1431.2 L1853.6,1431.6 L1856.1,1432.0 L1858.5,1432.4 L1861.0,1432.8 L1863.5,1433.1 L1866.0,1433.3 L1868.5,1433.5 L1871.0,1433.7 L1873.5,1433.8 L1876.0,1433.8 L1878.4,1433.8 L1880.9,1433.7 L1883.4,1433.5 L1885.9,1433.3 L1888.4,1433.1 L1890.9,1432.8 L1893.4,1432.4 L1895.9,1432.0 L1898.3,1431.6 L1900.8,1431.2 L1903.2,1430.7 L1905.7,1430.2 L1908.1,1429.6 L1910.5,1428.9 L1912.9,1428.2 L1915.2,1427.4 L1917.6,1426.6 L1920.0,1425.7 L1922.4,1424.8 L1924.7,1424.0 L1927.1,1423.1 L1929.5,1422.3 L1931.8,1421.5 L1934.2,1420.7 L1936.6,1419.9 L1939.0,1419.1 L1941.4,1418.4 L1943.7,1417.6 L1946.1,1416.7 L1948.4,1415.9 L1950.8,1415.0 L1953.1,1414.1 L1955.4,1413.2 L1957.7,1412.2 L1959.9,1411.1 L1962.2,1410.1 L1964.5,1409.0 L1966.7,1407.9 L1969.0,1406.8 L1971.2,1405.8 L1973.5,1404.7 L1975.8,1403.6 L1978.0,1402.5 L1980.3,1401.4 L1982.5,1400.3 L1984.8,1399.2 L1987.1,1398.2 L1989.4,1397.3 L1991.7,1396.4 L1994.1,1395.5 L1996.5,1394.7 L1998.9,1394.1 L2001.4,1393.6 L2003.8,1393.4 L2006.3,1393.3 L2008.8,1393.1 L2011.3,1393.0 L2013.8,1393.0 L2016.3,1393.0 L2018.8,1393.1 L2021.3,1393.2 L2023.8,1393.4 L2026.3,1393.7 L2028.8,1394.2 L2031.3,1394.9 L2033.7,1395.7 L2036.1,1396.6 L2038.3,1397.5 L2040.5,1398.7 L2042.7,1400.1 L2044.7,1401.6 L2046.7,1403.2 L2048.5,1404.9 L2050.3,1406.6 L2052.0,1408.4 L2053.7,1410.2 L2055.2,1412.2 L2056.7,1414.2 L2058.1,1416.2 L2059.4,1418.3 L2060.6,1420.5 L2061.7,1422.7 L2062.7,1424.9 L2063.7,1427.2 L2064.7,1429.6 L2065.6,1431.9 L2066.5,1434.3 L2067.5,1436.7 L2068.4,1439.0 L2069.3,1441.4 L2070.3,1443.7 L2071.2,1446.1 L2072.2,1448.4 L2073.1,1450.8 L2074.1,1453.1 L2075.1,1455.4 L2076.2,1457.7 L2077.3,1459.9 L2078.4,1462.2 L2079.6,1464.4 L2080.8,1466.6 L2082.0,1468.8 L2083.3,1470.9 L2084.6,1473.0 L2086.0,1475.1 L2087.4,1477.2 L2088.9,1479.2 L2090.4,1481.2 L2091.9,1483.1 L2093.5,1485.1 L2095.1,1487.0 L2096.8,1488.8 L2098.5,1490.7 L2100.2,1492.4 L2102.0,1494.2 L2103.8,1495.8 L2105.7,1497.5 L2107.6,1499.0 L2109.6,1500.6 L2111.6,1502.1 L2113.6,1503.6 L2115.6,1505.0 L2117.7,1506.5 L2119.7,1507.9 L2121.8,1509.3 L2123.9,1510.7 L2126.0,1512.0 L2128.1,1513.4 L2130.2,1514.7 L2132.4,1516.0 L2134.5,1517.3 L2136.6,1518.6 L2138.8,1519.9 L2140.9,1521.3 L2143.0,1522.6 L2145.1,1524.0 L2147.2,1525.3 L2149.3,1526.7 L2151.4,1528.1 L2153.5,1529.4 L2155.6,1530.8 L2157.7,1532.2 L2159.8,1533.6 L2161.9,1535.0 L2163.9,1536.4 L2166.0,1537.8 L2168.1,1539.2 L2170.2,1540.6 L2172.3,1542.0 L2174.3,1543.4 L2176.3,1544.9 L2178.3,1546.4 L2180.3,1548.0 L2182.2,1549.7 L2184.0,1551.4 L2185.9,1553.1 L2187.7,1554.8 L2189.6,1556.5 L2191.5,1558.1 L2193.4,1559.5 L2195.5,1560.9 L2197.6,1562.2 L2199.8,1563.4 L2202.1,1564.4 L2204.4,1565.3 L2206.8,1565.9 L2209.3,1566.4 L2211.8,1566.9 L2214.3,1567.3 L2216.7,1567.9 L2219.2,1568.5 L2221.5,1569.3 L2223.8,1570.2 L2226.1,1571.3 L2228.3,1572.4 L2230.5,1573.6 L2232.7,1574.8 L2234.9,1575.9 L2237.2,1577.1 L2239.4,1578.2 L2241.6,1579.4 L2243.8,1580.5 L2246.1,1581.7 L2248.3,1582.8 L2250.5,1584.0 L2252.7,1585.2 L2254.9,1586.3 L2257.2,1587.5 L2259.4,1588.7 L2261.6,1589.8 L2263.8,1591.0 L2266.1,1592.1 L2268.3,1593.3 L2270.5,1594.4 L2272.8,1595.5 L2275.0,1596.6 L2277.3,1597.7 L2279.5,1598.8 L2281.8,1599.9 L2284.0,1601.0 L2286.3,1602.1 L2288.5,1603.1 L2290.8,1604.1 L2293.2,1604.9 L2295.5,1605.7 L2297.9,1606.4 L2300.3,1607.0 L2302.7,1607.6 L2305.2,1608.3 L2307.5,1609.0 L2309.9,1609.9 L2312.2,1610.9 L2314.4,1612.2 L2316.7,1613.6 L2318.9,1615.0 L2321.1,1616.3 L2323.4,1617.3 L2325.7,1617.9 L2328.0,1618.1 L2330.4,1617.8 L2332.8,1617.4 L2335.3,1616.8 L2337.8,1616.1 L2340.3,1615.5 L2342.7,1614.9 L2345.2,1614.5 L2347.7,1614.0 L2350.2,1613.6 L2352.6,1613.3 L2355.1,1613.0 L2357.6,1612.9 L2360.1,1612.8 L2362.6,1612.8 L2365.1,1612.9 L2367.6,1613.0 L2370.1,1613.1 L2372.6,1613.2 L2375.1,1613.3 L2377.6,1613.3 L2380.1,1613.2 L2382.6,1613.1 L2385.0,1612.8 L2387.5,1612.5 L2390.0,1612.2 L2392.5,1611.7"/>
<path stroke="#8AA9D4" stroke-width="10.4" d="M279.5,509.0 L280.9,511.1 L282.2,513.2 L283.6,515.3 L285.0,517.4 L286.3,519.5 L287.7,521.6 L289.0,523.7 L290.4,525.8 L291.7,527.9 L293.1,530.0 L294.4,532.1 L295.8,534.2 L297.1,536.3 L298.5,538.4 L299.8,540.5 L301.1,542.6 L302.5,544.7 L303.8,546.9 L305.1,549.0 L306.5,551.1 L307.8,553.2 L309.1,555.3 L310.5,557.4 L311.8,559.5 L313.1,561.6 L314.5,563.7 L315.8,565.9 L317.1,568.0 L318.5,570.1 L319.8,572.2 L321.1,574.3 L322.4,576.4 L323.8,578.5 L325.1,580.6 L326.4,582.7 L327.8,584.9 L329.1,587.0 L330.4,589.1 L331.8,591.2 L333.1,593.3 L334.4,595.4 L335.8,597.5 L337.1,599.6 L338.4,601.7 L339.8,603.8 L341.1,605.9 L342.5,608.0 L343.8,610.1 L345.2,612.2 L346.5,614.3 L347.9,616.4 L349.2,618.5 L350.6,620.6 L352.0,622.7 L353.3,624.8 L354.7,626.9 L356.1,629.0 L357.5,631.1 L358.9,633.1 L360.2,635.2 L361.6,637.3 L363.1,639.4 L364.5,641.4 L365.9,643.5 L367.3,645.6 L368.7,647.6 L370.2,649.7 L371.6,651.7 L373.1,653.7 L374.5,655.8 L376.0,657.8 L377.4,659.9 L378.9,661.9 L380.4,663.9 L381.8,666.0 L383.2,668.0 L384.6,670.1 L386.1,672.2 L387.5,674.2 L388.8,676.3 L390.2,678.4 L391.6,680.5 L392.9,682.6 L394.2,684.7 L395.5,686.8 L396.7,689.0 L398.0,691.2 L399.2,693.3 L400.4,695.5 L401.6,697.7 L402.8,699.9 L404.0,702.0 L405.2,704.2 L406.4,706.4 L407.6,708.6 L408.8,710.7 L410.1,712.9 L411.4,715.0 L412.6,717.2 L413.9,719.3 L415.2,721.4 L416.6,723.6 L417.9,725.7 L419.3,727.8 L420.6,729.9 L422.1,732.0 L423.5,734.1 L425.0,736.1 L426.5,738.1 L428.1,740.0 L429.8,741.9 L431.5,743.8 L433.2,745.6 L435.1,747.5 L436.9,749.2 L438.9,750.8 L440.9,752.2 L443.0,753.5 L445.1,754.7 L447.4,755.8 L449.7,756.7 L452.1,757.4 L454.5,757.7 L457.0,757.7 L459.4,757.4 L461.9,756.7 L464.4,755.9 L466.7,754.9 L469.0,753.8 L471.0,752.5 L473.0,751.0 L474.9,749.4 L476.7,747.7 L478.5,745.9 L480.2,744.1 L482.0,742.2 L483.7,740.4 L485.6,738.6 L487.4,736.8 L489.3,735.0 L491.1,733.2 L493.0,731.4 L495.0,729.6 L496.9,728.0 L498.9,726.5 L501.0,725.2 L503.1,724.1 L505.3,723.2 L507.6,722.4 L510.0,721.7 L512.4,721.2 L514.8,720.7 L517.3,720.4 L519.8,720.3 L522.2,720.3 L524.7,720.6 L527.1,720.9 L529.6,721.4 L532.1,722.0 L534.5,722.6 L537.0,723.2 L539.5,723.8 L542.0,724.3 L544.4,724.9 L546.9,725.5 L549.3,726.1 L551.8,726.6 L554.3,727.1 L556.8,727.6 L559.2,728.0 L561.7,728.4 L564.2,728.7 L566.7,729.0 L569.2,729.3 L571.7,729.5 L574.2,729.8 L576.6,730.1 L579.1,730.4 L581.6,730.7 L584.0,731.1 L586.5,731.5 L588.9,731.9 L591.3,732.4 L593.7,733.0 L596.1,733.6 L598.5,734.2 L600.9,734.9 L603.2,735.7 L605.5,736.5 L607.8,737.3 L610.1,738.3 L612.3,739.3 L614.5,740.4 L616.7,741.6 L618.9,742.8 L621.1,744.1 L623.3,745.4 L625.5,746.6 L627.7,747.9 L629.9,749.1 L632.1,750.4 L634.3,751.6 L636.5,752.9 L638.8,754.2 L641.0,755.4 L643.3,756.6 L645.5,757.7 L647.8,758.8 L650.1,759.8 L652.4,760.7 L654.7,761.6 L657.1,762.4 L659.5,763.1 L661.9,763.8 L664.3,764.3 L666.7,764.6 L669.2,764.6 L671.6,764.5 L674.1,764.3 L676.6,763.9 L679.0,763.4 L681.4,762.7 L683.8,762.0 L686.1,761.2 L688.3,760.2 L690.5,759.0 L692.6,757.6 L694.7,756.0 L696.7,754.4 L698.7,752.7 L700.5,750.9 L702.3,749.2 L704.0,747.4 L705.6,745.5 L707.2,743.6 L708.7,741.6 L710.2,739.6 L711.6,737.5 L713.0,735.4 L714.3,733.2 L715.6,731.1 L716.9,728.9 L718.1,726.8 L719.4,724.6 L720.6,722.4 L721.8,720.2 L723.0,718.1 L724.1,715.8 L725.3,713.6 L726.4,711.4 L727.6,709.2 L728.7,706.9 L729.8,704.7 L730.9,702.4 L732.0,700.2 L733.1,697.9 L734.1,695.6 L735.2,693.4 L736.3,691.1 L737.3,688.8 L738.4,686.5 L739.4,684.3 L740.5,682.0 L741.5,679.7 L742.5,677.5 L743.6,675.2 L744.6,672.9 L745.6,670.6 L746.6,668.3 L747.6,666.0 L748.6,663.7 L749.6,661.4 L750.6,659.1 L751.6,656.8 L752.6,654.5 L753.6,652.2 L754.6,650.0 L755.6,647.7 L756.6,645.4 L757.6,643.1 L758.6,640.8 L759.6,638.6 L760.7,636.3 L761.7,634.0 L762.7,631.8 L763.8,629.5 L764.8,627.2 L765.9,625.0 L766.9,622.7 L768.0,620.5 L769.1,618.2 L770.2,616.0 L771.3,613.7 L772.4,611.5 L773.5,609.3 L774.6,607.1 L775.7,604.8 L776.9,602.6 L778.1,600.5 L779.3,598.3 L780.5,596.1 L781.7,594.0 L783.0,591.8 L784.2,589.7 L785.5,587.6 L786.9,585.4 L788.2,583.3 L789.6,581.2 L791.0,579.1 L792.4,577.1 L793.8,575.0 L795.3,573.0 L796.8,570.9 L798.3,568.9 L799.9,566.9 L801.4,565.0 L803.0,563.0 L804.7,561.1 L806.3,559.2 L808.0,557.3 L809.8,555.5 L811.5,553.6 L813.3,551.8 L815.2,550.1 L817.0,548.4 L818.9,546.7 L820.8,545.1 L822.7,543.5 L824.6,541.9 L826.6,540.3 L828.6,538.8 L830.7,537.5 L832.8,536.4 L835.0,535.5 L837.3,534.7 L839.7,534.0 L842.1,533.4 L844.5,532.9 L846.9,532.4 L849.4,532.1 L851.9,531.9 L854.3,531.9 L856.8,531.9 L859.3,532.0 L861.8,532.2 L864.3,532.4 L866.8,532.7 L869.3,533.0 L871.8,533.4 L874.3,533.8 L876.7,534.2 L879.2,534.7 L881.7,535.2 L884.1,535.9 L886.6,536.5 L889.0,537.3 L891.4,538.1 L893.8,538.9 L896.2,539.8 L898.6,540.7 L900.9,541.6 L903.2,542.6 L905.5,543.6 L907.8,544.7 L910.1,545.9 L912.3,547.0 L914.5,548.3 L916.7,549.5 L918.9,550.9 L921.0,552.2 L923.0,553.6 L925.1,555.1 L927.1,556.5 L929.0,558.0 L930.9,559.6 L932.8,561.2 L934.7,562.9 L936.5,564.6 L938.3,566.4 L940.0,568.1 L941.7,569.9 L943.4,571.8 L945.0,573.6 L946.5,575.5 L948.1,577.4 L949.6,579.3 L951.1,581.3 L952.6,583.3 L954.0,585.4 L955.4,587.4 L956.8,589.5 L958.1,591.6 L959.4,593.7 L960.7,595.9 L962.0,598.0 L963.2,600.1 L964.4,602.3 L965.6,604.5 L966.8,606.7 L967.9,608.9 L969.1,611.2 L970.2,613.4 L971.3,615.7 L972.4,617.9 L973.4,620.2 L974.5,622.5 L975.6,624.8 L976.6,627.1 L977.7,629.4 L978.7,631.7 L979.7,634.0 L980.7,636.3 L981.7,638.6 L982.7,640.9 L983.7,643.2 L984.7,645.5 L985.7,647.9 L986.6,650.2 L987.6,652.5 L988.6,654.8 L989.6,657.1 L990.5,659.5 L991.5,661.8 L992.5,664.1 L993.5,666.4 L994.5,668.7 L995.5,671.0 L996.5,673.3 L997.6,675.5 L998.6,677.8 L999.6,680.1 L1000.6,682.3 L1001.7,684.6 L1002.7,686.9 L1003.8,689.1 L1004.8,691.4 L1005.9,693.6 L1007.0,695.9 L1008.1,698.1 L1009.2,700.3 L1010.3,702.5 L1011.4,704.8 L1012.5,707.0 L1013.6,709.2 L1014.8,711.4 L1015.9,713.6 L1017.1,715.8 L1018.3,718.0 L1019.4,720.1 L1020.6,722.3 L1021.8,724.5 L1023.0,726.7 L1024.2,728.9 L1025.4,731.0 L1026.6,733.2 L1027.8,735.4 L1029.0,737.6 L1030.2,739.8 L1031.4,742.0 L1032.5,744.2 L1033.7,746.4 L1034.9,748.6 L1036.1,750.8 L1037.3,753.0 L1038.5,755.2 L1039.7,757.4 L1040.9,759.6 L1042.1,761.8 L1043.4,764.0 L1044.6,766.2 L1045.9,768.4 L1047.2,770.5 L1048.5,772.7 L1049.8,774.9 L1051.1,777.1 L1052.4,779.2 L1053.8,781.4 L1055.2,783.5 L1056.6,785.5 L1058.0,787.6 L1059.5,789.5 L1061.1,791.5 L1062.7,793.4 L1064.3,795.3 L1066.0,797.1 L1067.7,798.9 L1069.5,800.6 L1071.4,802.3 L1073.4,803.8 L1075.4,805.1 L1077.5,806.3 L1079.7,807.3 L1082.0,808.3 L1084.4,809.2 L1086.8,810.2 L1089.1,811.1 L1091.4,812.2 L1093.6,813.4 L1095.7,814.7 L1097.8,816.0 L1099.9,817.5 L1101.9,819.0 L1103.8,820.6 L1105.6,822.2 L1107.4,823.9 L1109.1,825.7 L1110.7,827.5 L1112.3,829.4 L1113.9,831.4 L1115.4,833.4 L1116.9,835.4 L1118.3,837.5 L1119.7,839.6 L1121.1,841.7 L1122.4,843.8 L1123.8,845.9 L1125.1,848.0 L1126.3,850.2 L1127.6,852.3 L1128.8,854.5 L1130.0,856.7 L1131.2,858.9 L1132.3,861.2 L1133.5,863.4 L1134.7,865.7 L1135.8,867.9 L1137.0,870.1 L1138.1,872.4 L1139.3,874.6 L1140.4,876.8 L1141.6,879.0 L1142.8,881.2 L1143.9,883.5 L1145.1,885.7 L1146.3,887.9 L1147.4,890.1 L1148.6,892.3 L1149.8,894.5 L1151.0,896.7 L1152.2,898.9 L1153.4,901.0 L1154.6,903.2 L1155.8,905.4 L1157.0,907.6 L1158.3,909.7 L1159.5,911.9 L1160.7,914.0 L1162.0,916.2 L1163.3,918.3 L1164.5,920.4 L1165.8,922.6 L1167.1,924.7 L1168.5,926.8 L1169.8,928.9 L1171.1,931.0 L1172.5,933.1 L1173.9,935.2 L1175.2,937.2 L1176.6,939.3 L1178.0,941.4 L1179.5,943.5 L1180.9,945.5 L1182.4,947.5 L1183.9,949.6 L1185.4,951.6 L1186.9,953.5 L1188.5,955.5 L1190.1,957.4 L1191.8,959.3 L1193.5,961.2 L1195.2,963.0 L1197.0,964.8 L1198.8,966.6 L1200.6,968.4 L1202.5,970.1 L1204.4,971.7 L1206.3,973.3 L1208.3,974.9 L1210.3,976.3 L1212.3,977.8 L1214.4,979.2 L1216.5,980.6 L1218.7,981.8 L1220.9,983.0 L1223.1,984.0 L1225.4,984.9 L1227.8,985.6 L1230.2,986.3 L1232.6,986.9 L1235.1,987.4 L1237.6,987.7 L1240.1,988.0 L1242.5,988.0 L1245.0,987.9 L1247.5,987.5 L1249.9,986.9 L1252.3,986.2 L1254.7,985.4 L1257.0,984.5 L1259.2,983.5 L1261.4,982.4 L1263.4,981.1 L1265.4,979.7 L1267.4,978.1 L1269.3,976.5 L1271.2,974.8 L1273.0,973.0 L1274.8,971.2 L1276.6,969.4 L1278.3,967.6 L1280.0,965.7 L1281.7,963.8 L1283.4,961.9 L1285.0,959.9 L1286.7,958.0 L1288.3,956.0 L1290.0,954.1 L1291.7,952.2 L1293.4,950.4 L1295.1,948.5 L1296.9,946.7 L1298.6,944.9 L1300.4,943.1 L1302.2,941.4 L1304.1,939.8 L1306.0,938.3 L1308.0,936.8 L1310.1,935.5 L1312.2,934.2 L1314.4,933.0 L1316.7,931.9 L1319.0,930.9 L1321.5,930.3 L1323.9,929.9 L1326.5,929.8 L1329.1,929.7 L1331.7,929.7 L1334.1,929.9 L1336.4,930.3 L1338.6,931.4 L1340.7,932.8 L1342.5,934.5 L1344.2,936.3 L1345.6,938.1 L1346.9,940.2 L1348.1,942.4 L1349.2,944.8 L1350.2,947.2 L1351.2,949.6 L1352.1,952.1 L1352.9,954.5 L1353.7,956.9 L1354.5,959.3 L1355.2,961.7 L1355.9,964.1 L1356.6,966.6 L1357.2,969.0 L1357.9,971.4 L1358.5,973.8 L1359.2,976.3 L1359.8,978.7 L1360.4,981.0 L1361.1,983.4 L1361.7,985.8 L1362.3,988.2 L1363.0,990.6 L1363.6,993.0 L1364.2,995.4 L1364.8,997.8 L1365.4,1000.2 L1366.0,1002.6 L1366.6,1005.0 L1367.2,1007.4 L1367.8,1009.8 L1368.4,1012.3 L1369.0,1014.7 L1369.5,1017.1 L1370.1,1019.6 L1370.7,1022.0 L1371.3,1024.4 L1371.9,1026.9 L1372.5,1029.3 L1373.0,1031.8 L1373.6,1034.2 L1374.2,1036.7 L1374.8,1039.1 L1375.4,1041.6 L1376.0,1044.0 L1376.7,1046.4 L1377.3,1048.9 L1377.9,1051.3 L1378.6,1053.7 L1379.3,1056.1 L1379.9,1058.6 L1380.6,1061.0 L1381.3,1063.4 L1382.0,1065.8 L1382.7,1068.2 L1383.4,1070.6 L1384.1,1073.0 L1384.8,1075.3 L1385.6,1077.7 L1386.3,1080.1 L1387.1,1082.4 L1387.9,1084.7 L1388.7,1087.0 L1389.5,1089.3 L1390.3,1091.6 L1391.1,1093.9 L1392.0,1096.2 L1392.8,1098.5 L1393.7,1100.8 L1394.7,1103.1 L1395.6,1105.4 L1396.6,1107.7 L1397.7,1110.0 L1398.8,1112.3 L1400.0,1114.6 L1401.2,1116.9 L1402.5,1119.3 L1403.9,1121.7 L1405.3,1124.0 L1406.9,1126.2 L1408.6,1128.0 L1410.5,1129.4 L1412.6,1130.4 L1414.9,1131.2 L1417.3,1131.5 L1419.7,1131.3 L1422.1,1130.7 L1424.4,1129.8 L1426.7,1128.6 L1428.8,1127.4 L1430.7,1126.0 L1432.5,1124.4 L1434.2,1122.6 L1435.8,1120.6 L1437.3,1118.5 L1438.7,1116.4 L1440.0,1114.2 L1441.2,1112.1 L1442.3,1109.9 L1443.4,1107.7 L1444.5,1105.5 L1445.5,1103.2 L1446.4,1100.8 L1447.3,1098.5 L1448.2,1096.1 L1449.0,1093.7 L1449.8,1091.3 L1450.6,1088.8 L1451.3,1086.4 L1452.0,1084.0 L1452.7,1081.6 L1453.4,1079.1 L1454.0,1076.7 L1454.6,1074.3 L1455.2,1071.8 L1455.8,1069.4 L1456.4,1066.9 L1457.0,1064.5 L1457.6,1062.0 L1458.1,1059.5 L1458.6,1057.1 L1459.1,1054.6 L1459.6,1052.2 L1460.1,1049.7 L1460.6,1047.3 L1461.1,1044.8 L1461.5,1042.3 L1462.0,1039.9 L1462.4,1037.4 L1462.8,1035.0 L1463.3,1032.5 L1463.7,1030.1 L1464.1,1027.6 L1464.5,1025.1 L1464.8,1022.7 L1465.2,1020.2 L1465.6,1017.7 L1466.0,1015.3 L1466.3,1012.8 L1466.7,1010.3 L1467.0,1007.9 L1467.4,1005.4 L1467.7,1002.9 L1468.0,1000.5 L1468.4,998.0 L1468.7,995.5 L1469.1,993.1 L1469.4,990.6 L1469.7,988.1 L1470.1,985.6 L1470.4,983.2 L1470.7,980.7 L1471.0,978.2 L1471.4,975.8 L1471.7,973.3 L1472.0,970.8 L1472.3,968.4 L1472.7,965.9 L1473.0,963.4 L1473.3,960.9 L1473.6,958.5 L1473.9,956.0 L1474.2,953.5 L1474.5,951.0 L1474.8,948.6 L1475.1,946.1 L1475.4,943.6 L1475.7,941.1 L1476.0,938.7 L1476.3,936.2 L1476.6,933.7 L1476.9,931.2 L1477.2,928.7 L1477.5,926.3 L1477.7,923.8 L1478.0,921.3 L1478.3,918.8 L1478.5,916.3 L1478.8,913.8 L1479.0,911.4 L1479.3,908.9 L1479.5,906.4 L1479.8,903.9 L1480.1,901.4 L1480.3,898.9 L1480.6,896.4 L1480.8,894.0 L1481.1,891.5 L1481.4,889.0 L1481.6,886.5 L1481.9,884.0 L1482.2,881.5 L1482.5,879.1 L1482.8,876.6 L1483.1,874.1 L1483.4,871.6 L1483.8,869.2 L1484.1,866.7 L1484.5,864.2 L1484.9,861.8 L1485.3,859.3 L1485.6,856.8 L1485.9,854.3 L1486.2,851.9 L1486.5,849.4 L1486.8,846.9 L1487.1,844.4 L1487.4,841.9 L1487.7,839.4 L1487.9,837.0 L1488.2,834.5 L1488.5,832.0 L1488.7,829.5 L1489.0,827.0 L1489.2,824.5 L1489.5,822.0 L1489.8,819.5 L1490.0,817.1 L1490.3,814.6 L1490.6,812.1 L1490.8,809.6 L1491.1,807.1 L1491.3,804.6 L1491.6,802.1 L1491.9,799.7 L1492.1,797.2 L1492.4,794.7 L1492.6,792.2 L1492.9,789.7 L1493.1,787.2 L1493.4,784.7 L1493.6,782.3 L1493.9,779.8 L1494.1,777.3 L1494.4,774.8 L1494.6,772.3 L1494.9,769.8 L1495.2,767.3 L1495.4,764.9 L1495.7,762.4 L1495.9,759.9 L1496.2,757.4 L1496.4,754.9 L1496.7,752.4 L1496.9,749.9 L1497.2,747.5 L1497.4,745.0 L1497.7,742.5 L1497.9,740.0 L1498.2,737.5 L1498.4,735.0 L1498.7,732.5 L1498.9,730.1 L1499.2,727.6 L1499.4,725.1 L1499.7,722.6 L1499.9,720.1 L1500.2,717.6 L1500.5,715.2 L1500.7,712.7 L1501.0,710.2 L1501.3,707.7 L1501.5,705.2 L1501.8,702.8 L1502.1,700.3 L1502.4,697.8 L1502.6,695.3 L1502.9,692.8 L1503.2,690.4 L1503.5,687.9 L1503.8,685.4 L1504.1,682.9 L1504.4,680.4 L1504.7,678.0 L1505.0,675.5 L1505.3,673.0 L1505.6,670.5 L1505.9,668.1 L1506.2,665.6 L1506.5,663.1 L1506.9,660.6 L1507.2,658.1 L1507.5,655.7 L1507.8,653.2 L1508.1,650.7 L1508.5,648.2 L1508.8,645.8 L1509.1,643.3 L1509.5,640.8 L1509.8,638.4 L1510.1,635.9 L1510.5,633.4 L1510.8,630.9 L1511.2,628.5 L1511.5,626.0 L1511.9,623.5 L1512.2,621.0 L1512.6,618.6 L1512.9,616.1 L1513.3,613.6 L1513.7,611.2 L1514.0,608.7 L1514.4,606.2 L1514.8,603.8 L1515.2,601.3 L1515.5,598.8 L1515.9,596.4 L1516.3,593.9 L1516.7,591.4 L1517.1,589.0 L1517.5,586.5 L1517.9,584.0 L1518.2,581.6 L1518.6,579.1 L1519.0,576.6 L1519.4,574.2 L1519.8,571.7 L1520.3,569.2 L1520.7,566.8 L1521.1,564.3 L1521.5,561.8 L1521.9,559.4 L1522.4,556.9 L1522.8,554.4 L1523.2,552.0 L1523.7,549.5 L1524.1,547.1 L1524.6,544.6 L1525.0,542.1 L1525.5,539.7 L1525.9,537.2 L1526.4,534.8 L1526.9,532.3 L1527.3,529.8 L1527.8,527.4 L1528.3,524.9 L1528.8,522.5 L1529.3,520.0 L1529.8,517.6 L1530.4,515.1 L1530.9,512.7 L1531.4,510.3 L1532.0,507.8 L1532.6,505.4 L1533.1,503.0 L1533.7,500.5 L1534.3,498.1 L1534.9,495.7 L1535.6,493.3 L1536.2,490.9 L1536.9,488.4 L1537.6,486.0 L1538.2,483.6 L1538.9,481.3 L1539.7,478.9 L1540.4,476.5 L1541.2,474.1 L1541.9,471.8 L1542.8,469.4 L1543.6,467.0 L1544.4,464.7 L1545.3,462.4 L1546.2,460.0 L1547.1,457.7 L1548.1,455.4 L1549.0,453.1 L1550.0,450.8 L1551.0,448.5 L1552.0,446.2 L1553.0,443.9 L1554.0,441.6 L1555.1,439.4 L1556.2,437.1 L1557.4,434.9 L1558.6,432.6 L1559.8,430.5 L1561.1,428.3 L1562.5,426.2 L1564.0,424.0 L1565.5,421.8 L1567.2,419.7 L1568.9,417.7 L1570.8,416.1 L1572.7,414.9 L1574.8,414.2 L1577.0,413.8 L1579.5,413.5 L1582.0,413.3 L1584.6,413.3 L1587.3,413.2 L1589.9,413.3 L1592.5,413.4 L1595.1,413.6 L1597.6,413.9 L1600.0,414.4 L1602.1,415.3 L1604.1,416.6 L1606.0,418.3 L1607.8,420.2 L1609.4,422.1 L1611.0,424.0 L1612.4,426.1 L1613.8,428.3 L1615.1,430.5 L1616.4,432.8 L1617.7,434.9 L1619.2,437.0 L1620.8,438.8 L1622.6,440.4 L1624.6,441.8 L1626.7,443.0 L1629.0,444.2 L1631.3,445.3 L1633.6,446.5 L1635.8,447.7 L1637.7,449.2 L1639.4,450.8 L1640.9,452.6 L1642.4,454.6 L1643.7,456.8 L1644.9,459.0 L1646.1,461.3 L1647.2,463.7 L1648.3,466.0 L1649.4,468.2 L1650.4,470.5 L1651.5,472.8 L1652.4,475.1 L1653.4,477.4 L1654.4,479.7 L1655.3,482.1 L1656.2,484.4 L1657.1,486.7 L1658.0,489.0 L1658.9,491.3 L1659.7,493.7 L1660.6,496.0 L1661.4,498.4 L1662.2,500.8 L1663.0,503.1 L1663.8,505.5 L1664.6,507.9 L1665.4,510.3 L1666.2,512.6 L1667.0,515.0 L1667.9,517.3 L1668.8,519.7 L1669.7,522.0 L1670.6,524.3 L1671.6,526.6 L1672.6,528.9 L1673.7,531.2 L1674.8,533.4 L1675.9,535.6 L1677.1,537.9 L1678.3,540.0 L1679.6,542.2 L1681.0,544.3 L1682.4,546.3 L1683.8,548.4 L1685.4,550.4 L1687.0,552.4 L1688.7,554.3 L1690.4,556.1 L1692.3,557.7 L1694.2,559.3 L1696.2,560.8 L1698.2,562.3 L1700.4,563.6 L1702.6,564.9 L1704.9,566.0 L1707.2,566.9 L1709.5,567.6 L1711.8,568.1 L1714.3,568.4 L1716.7,568.7 L1719.2,568.9 L1721.7,569.0 L1724.3,569.2 L1726.8,569.3 L1729.4,569.4 L1731.9,569.6 L1734.4,569.7 L1736.9,569.9 L1739.5,570.2 L1742.0,570.4 L1744.5,570.8 L1746.9,571.2 L1749.3,571.7 L1751.7,572.3 L1754.1,573.1 L1756.4,574.1 L1758.7,575.1 L1760.9,576.3 L1763.1,577.6 L1765.1,579.1 L1767.0,580.9 L1768.9,582.8 L1770.7,584.7 L1772.6,586.1 L1774.7,587.0 L1776.8,587.4 L1779.1,587.6 L1781.6,587.7 L1784.0,587.6 L1786.6,587.5 L1789.1,587.3 L1791.7,587.0 L1794.3,586.7 L1796.8,586.3 L1799.3,585.9 L1801.9,585.4 L1804.4,585.0 L1806.9,584.7 L1809.4,584.5 L1811.9,584.5 L1814.4,584.6 L1816.9,584.7 L1819.4,585.0 L1821.8,585.2 L1824.3,585.4 L1826.7,585.4 L1829.2,585.4 L1831.6,585.1 L1834.1,584.6 L1836.5,584.0 L1838.9,583.3 L1841.4,582.5 L1843.8,581.8 L1846.3,581.1 L1848.7,580.5 L1851.2,579.9 L1853.6,579.3 L1856.1,578.7 L1858.5,578.2 L1861.0,577.8 L1863.4,577.4 L1865.9,577.2 L1868.4,577.1 L1870.9,577.2 L1873.4,577.3 L1875.9,577.5 L1878.5,577.8 L1881.0,578.0 L1883.5,578.2 L1885.9,578.3 L1888.4,578.2 L1890.7,577.9 L1893.1,577.4 L1895.3,576.5 L1897.6,575.5 L1899.9,574.3 L1902.1,573.0 L1904.3,571.7 L1906.5,570.3 L1908.8,569.1 L1911.1,567.9 L1913.4,566.9 L1915.7,565.9 L1918.0,565.0 L1920.3,564.0 L1922.7,563.1 L1925.0,562.3 L1927.3,561.4 L1929.6,560.5 L1932.0,559.5 L1934.3,558.6 L1936.5,557.6 L1938.8,556.5 L1941.1,555.5 L1943.3,554.4 L1945.6,553.4 L1947.9,552.5 L1950.2,551.6 L1952.6,550.9 L1955.0,550.2 L1957.5,549.5 L1959.9,548.9 L1962.4,548.5 L1964.9,548.1 L1967.4,548.0 L1969.9,548.1 L1972.4,548.2 L1974.9,548.5 L1977.4,548.8 L1979.9,549.3 L1982.3,549.8 L1984.6,550.5 L1987.0,551.4 L1989.3,552.3 L1991.5,553.4 L1993.8,554.6 L1996.0,555.8 L1998.2,557.0 L2000.4,558.2 L2002.5,559.6 L2004.6,561.0 L2006.7,562.3 L2008.9,563.6 L2011.1,564.8 L2013.3,565.8 L2015.6,566.6 L2018.0,567.4 L2020.4,568.0 L2022.8,568.7 L2025.2,569.4 L2027.5,570.3 L2029.7,571.2 L2031.9,572.4 L2033.9,573.8 L2036.0,575.3 L2037.9,576.9 L2039.9,578.6 L2041.8,580.3 L2043.6,582.0 L2045.5,583.7 L2047.3,585.4 L2049.1,587.1 L2050.9,588.9 L2052.6,590.8 L2054.3,592.6 L2055.8,594.6 L2057.3,596.5 L2058.8,598.5 L2060.2,600.6 L2061.5,602.7 L2062.8,604.8 L2064.1,607.0 L2065.2,609.2 L2066.4,611.5 L2067.4,613.7 L2068.4,616.0 L2069.4,618.3 L2070.2,620.6 L2071.1,622.9 L2071.8,625.3 L2072.6,627.7 L2073.4,630.1 L2074.1,632.5 L2074.9,634.8 L2075.7,637.2 L2076.5,639.6 L2077.4,641.9 L2078.3,644.2 L2079.2,646.6 L2080.2,648.9 L2081.2,651.2 L2082.3,653.5 L2083.4,655.7 L2084.6,657.9 L2085.8,660.1 L2087.1,662.2 L2088.5,664.4 L2090.0,666.5 L2091.5,668.6 L2093.2,670.6 L2094.9,672.6 L2096.7,674.4 L2098.6,676.0 L2100.6,677.3 L2102.6,678.4 L2104.8,679.3 L2107.1,680.0 L2109.5,680.7 L2111.9,681.2 L2114.4,681.7 L2117.0,682.2 L2119.5,682.6 L2122.0,683.1 L2124.5,683.6 L2127.0,684.2 L2129.4,684.7 L2131.9,685.3 L2134.3,685.9 L2136.8,686.6 L2139.2,687.2 L2141.6,688.0 L2143.9,688.8 L2146.3,689.6 L2148.6,690.6 L2150.8,691.6 L2153.0,692.7 L2155.2,694.0 L2157.3,695.4 L2159.4,696.8 L2161.5,698.1 L2163.7,699.3 L2166.0,700.1 L2168.5,700.7 L2171.2,701.2 L2173.7,701.6 L2176.1,702.2 L2178.0,703.1 L2179.6,704.5 L2180.9,706.4 L2182.1,708.7 L2183.2,711.3 L2184.2,713.8 L2185.4,716.2 L2186.6,718.7 L2188.0,721.2 L2189.5,723.0 L2191.2,723.8 L2193.3,723.7 L2195.7,723.3 L2198.3,722.5 L2200.8,721.5 L2203.2,720.4 L2205.5,719.1 L2207.7,717.6 L2209.9,716.2 L2212.2,715.1 L2214.4,714.4 L2216.6,714.3 L2218.9,714.8 L2221.2,715.7 L2223.5,716.8 L2225.8,718.0 L2228.2,719.0 L2230.6,719.7 L2233.1,720.2 L2235.6,720.6 L2238.2,720.8 L2240.8,721.0 L2243.4,721.2 L2245.9,721.4 L2248.4,721.6 L2250.8,721.9 L2253.1,722.3 L2255.2,723.0 L2257.3,723.9 L2259.2,725.3 L2261.1,726.9 L2262.9,728.7 L2264.7,730.6 L2266.5,732.5 L2268.4,734.3 L2270.2,736.1 L2272.0,737.8 L2273.9,739.6 L2275.8,741.3 L2277.7,742.9 L2279.7,744.5 L2281.7,745.9 L2283.8,747.2 L2286.0,748.4 L2288.3,749.5 L2290.6,750.6 L2292.9,751.6 L2295.2,752.7 L2297.4,753.9 L2299.4,755.3 L2301.4,756.8 L2303.2,758.6 L2304.8,760.7 L2306.4,763.2 L2307.8,765.7 L2309.3,768.1 L2310.8,770.3 L2312.4,772.1 L2314.0,773.3 L2315.9,773.8 L2318.0,773.6 L2320.3,772.9 L2322.7,772.0 L2325.2,771.0 L2327.7,770.2 L2330.1,769.9 L2332.5,770.2 L2334.9,771.0 L2337.2,772.2 L2339.4,773.6 L2341.6,775.1 L2343.6,776.7 L2345.6,778.2 L2347.6,779.8 L2349.4,781.5 L2351.2,783.2 L2353.0,785.0 L2354.6,786.9 L2356.2,788.7 L2357.7,790.6 L2359.1,792.6 L2360.5,794.6 L2361.8,796.7 L2363.1,798.9 L2364.3,801.1 L2365.4,803.3 L2366.6,805.6 L2367.7,808.0 L2368.9,810.4 L2370.0,812.9 L2371.0,815.7 L2372.1,818.6 L2373.1,821.4 L2374.1,824.1 L2375.2,826.7 L2376.3,828.8 L2377.5,830.6 L2378.7,831.8 L2380.0,832.4 L2381.5,832.4 L2383.0,831.8 L2384.7,830.7 L2386.5,828.9 L2388.4,826.6 L2390.4,823.6 L2392.5,819.9"/>
<path stroke="#F16C23" d="M279.0,1163.6 L281.4,1165.7 L283.7,1167.8 L286.1,1169.9 L288.4,1172.0 L290.7,1174.1 L293.1,1176.2 L295.4,1178.3 L297.8,1180.4 L300.1,1182.5 L302.5,1184.6 L304.8,1186.7 L307.2,1188.8 L309.5,1190.9 M343.1,1222.7 L345.5,1224.8 L347.8,1226.9 L350.2,1229.0 L352.5,1231.1 L354.9,1233.2 L357.2,1235.3 L359.6,1237.4 L361.9,1239.5 L364.3,1241.6 L366.6,1243.7 L368.9,1245.9 L371.3,1248.0 L373.6,1250.1 M404.9,1283.0 L407.2,1285.2 L409.4,1287.4 L411.7,1289.7 L414.0,1291.9 L416.2,1294.2 L418.5,1296.4 L420.8,1298.6 L423.1,1300.8 L425.4,1302.9 L427.8,1305.1 L430.1,1307.2 L432.5,1309.2 L434.9,1311.2 M475.1,1325.9 L478.2,1325.4 L481.3,1325.0 L484.4,1324.5 L487.5,1324.1 L490.6,1323.7 L493.7,1323.4 L496.8,1323.3 L499.8,1323.3 L502.9,1323.4 L506.0,1323.5 L509.1,1323.8 L512.2,1324.2 L515.2,1324.7 L518.3,1325.2 M560.0,1338.3 L563.1,1339.1 L566.1,1339.9 L569.1,1340.7 L572.2,1341.5 L575.2,1342.3 L578.3,1343.1 L581.3,1343.9 L584.3,1344.7 L587.4,1345.5 L590.4,1346.3 L593.4,1347.1 L596.5,1348.0 L599.5,1348.8 L602.5,1349.7 M642.3,1366.2 L645.3,1367.4 L648.3,1368.5 L651.3,1369.4 L654.3,1370.3 L657.3,1371.0 L660.3,1371.6 L663.4,1372.0 L666.5,1372.2 L669.6,1372.4 L672.7,1372.4 L675.8,1372.3 L678.9,1372.0 L682.1,1371.7 L685.2,1371.2 M723.8,1350.3 L726.2,1348.1 L728.6,1346.0 L731.0,1343.8 L733.4,1341.6 L735.7,1339.3 L738.1,1337.1 L740.4,1334.8 L742.7,1332.6 L745.0,1330.3 L747.3,1328.0 L749.6,1325.7 L751.9,1323.4 L754.2,1321.1 M785.1,1287.7 L787.7,1285.9 L790.3,1284.1 L793.0,1282.3 L795.7,1280.6 L798.4,1278.8 L801.1,1277.1 L803.8,1275.5 L806.6,1273.9 L809.3,1272.3 L812.1,1270.8 L814.9,1269.5 L817.7,1268.2 L820.5,1267.0 M864.0,1266.8 L867.1,1267.3 L870.1,1267.8 L873.2,1268.4 L876.2,1269.0 L879.3,1269.6 L882.3,1270.3 L885.3,1271.0 L888.4,1271.7 L891.4,1272.4 L894.4,1273.2 L897.4,1274.0 L900.4,1274.8 L903.3,1275.6 L906.3,1276.4 M944.7,1299.3 L947.1,1301.2 L949.4,1303.1 L951.7,1305.1 L954.0,1307.0 L956.3,1309.0 L958.6,1311.0 L960.9,1313.0 L963.2,1315.0 L965.4,1317.0 L967.7,1319.0 L969.9,1321.0 L972.2,1323.0 L974.4,1325.1 L976.7,1327.1 M1007.4,1358.4 L1010.1,1359.9 L1012.8,1361.3 L1015.5,1362.8 L1018.3,1364.2 L1021.1,1365.6 L1024.0,1367.0 L1026.8,1368.4 L1029.7,1369.7 L1032.5,1370.9 L1035.4,1372.1 L1038.3,1373.3 L1041.2,1374.3 L1044.1,1375.3 L1047.0,1376.3 M1088.0,1375.1 L1090.9,1373.7 L1093.7,1372.1 L1096.5,1370.6 L1099.4,1369.1 L1102.3,1367.6 L1105.2,1366.3 L1108.1,1365.2 L1111.1,1364.3 L1114.1,1363.5 L1117.2,1362.8 L1120.3,1362.3 L1123.4,1362.0 L1126.6,1361.7 L1129.6,1361.7 M1165.2,1387.1 L1168.0,1388.5 L1170.8,1389.8 L1173.6,1391.2 L1176.4,1392.6 L1179.2,1393.9 L1182.1,1395.2 L1184.9,1396.4 L1187.8,1397.7 L1190.6,1398.8 L1193.5,1400.0 L1196.4,1401.1 L1199.2,1402.1 L1202.1,1403.1 L1205.0,1404.1 M1247.5,1406.5 L1250.5,1406.1 L1253.5,1405.6 L1256.6,1405.0 L1259.6,1404.4 L1262.6,1403.8 L1265.6,1403.1 L1268.7,1402.4 L1271.7,1401.8 L1274.7,1401.1 L1277.7,1400.5 L1280.8,1399.9 L1283.8,1399.3 L1286.8,1398.7 L1289.9,1398.3 M1334.4,1398.3 L1337.4,1399.1 L1340.4,1400.1 L1343.2,1401.4 L1345.9,1402.8 L1348.5,1404.4 L1350.9,1406.1 L1353.1,1408.1 L1355.2,1410.2 L1357.1,1412.5 L1358.9,1414.9 L1360.6,1417.5 L1362.2,1420.2 L1363.7,1423.1 L1365.0,1426.0 M1386.4,1466.1 L1388.6,1468.4 L1390.9,1470.6 L1393.4,1472.6 L1395.9,1474.4 L1398.6,1476.0 L1401.3,1477.3 L1404.2,1478.4 L1407.1,1479.1 L1410.1,1479.7 L1413.2,1480.0 L1416.3,1480.2 L1419.5,1480.2 L1422.6,1479.9 M1453.2,1447.9 L1454.3,1445.1 L1455.4,1442.3 L1456.5,1439.4 L1457.5,1436.5 L1458.6,1433.6 L1459.6,1430.7 L1460.6,1427.8 L1461.6,1424.9 L1462.5,1422.0 L1463.5,1419.1 L1464.4,1416.2 L1465.4,1413.3 L1466.3,1410.4 L1467.3,1407.5 M1479.0,1365.2 L1479.6,1362.2 L1480.3,1359.2 L1480.9,1356.3 L1481.5,1353.3 L1482.1,1350.3 L1482.7,1347.4 L1483.3,1344.4 L1484.0,1341.4 L1484.6,1338.4 L1485.2,1335.5 L1485.8,1332.5 L1486.4,1329.5 L1487.0,1326.5 L1487.6,1323.5 M1497.7,1280.6 L1498.3,1277.6 L1498.8,1274.6 L1499.4,1271.7 L1499.9,1268.7 L1500.5,1265.7 L1501.0,1262.7 L1501.5,1259.8 L1502.1,1256.8 L1502.6,1253.8 L1503.2,1250.8 L1503.7,1247.8 L1504.3,1244.9 L1504.8,1241.9 L1505.4,1238.9 M1514.5,1194.3 L1515.3,1191.1 L1516.0,1188.0 L1516.7,1184.8 L1517.4,1181.7 L1518.2,1178.5 L1518.9,1175.4 L1519.7,1172.3 L1520.4,1169.1 L1521.1,1166.0 L1521.9,1162.8 L1522.6,1159.7 L1523.3,1156.5 L1524.1,1153.4 M1533.3,1109.6 L1534.1,1106.7 L1535.0,1103.8 L1535.8,1100.9 L1536.7,1098.0 L1537.6,1095.1 L1538.5,1092.2 L1539.4,1089.3 L1540.3,1086.4 L1541.2,1083.5 L1542.1,1080.6 L1543.0,1077.7 L1544.0,1074.8 L1544.9,1072.0 L1545.8,1069.1 M1560.9,1027.4 L1562.6,1024.7 L1564.3,1022.1 L1566.1,1019.4 L1567.9,1016.8 L1569.7,1014.1 L1571.6,1011.5 L1573.5,1008.9 L1575.4,1006.3 L1577.3,1003.8 L1579.3,1001.3 L1581.3,998.8 L1583.4,996.4 L1585.4,994.0 M1625.8,992.0 L1628.1,993.9 L1630.3,995.9 L1632.5,997.9 L1634.7,999.9 L1636.9,1002.0 L1639.0,1004.1 L1641.1,1006.3 L1643.2,1008.4 L1645.3,1010.6 L1647.3,1012.8 L1649.3,1015.1 L1651.2,1017.3 L1653.1,1019.5 L1655.0,1021.8 M1673.9,1063.5 L1675.9,1065.7 L1677.9,1067.8 L1680.0,1070.0 L1682.2,1072.1 L1684.3,1074.2 L1686.5,1076.3 L1688.8,1078.4 L1691.0,1080.4 L1693.3,1082.4 L1695.7,1084.3 L1698.0,1086.2 L1700.3,1088.0 L1702.7,1089.7 L1705.1,1091.4 M1748.3,1102.5 L1751.1,1104.4 L1753.9,1106.3 L1756.7,1108.0 L1759.6,1109.6 L1762.4,1111.0 L1765.3,1112.2 L1768.3,1113.0 L1771.2,1113.5 L1774.3,1113.6 L1777.3,1113.5 L1780.5,1113.0 L1783.6,1112.4 L1786.8,1111.7 L1790.0,1110.9 M1833.1,1113.5 L1836.2,1113.2 L1839.3,1113.0 L1842.4,1112.7 L1845.5,1112.4 L1848.6,1112.0 L1851.7,1111.6 L1854.7,1111.3 L1857.8,1110.8 L1860.9,1110.4 L1864.0,1110.0 L1867.1,1109.5 L1870.1,1109.0 L1873.2,1108.5 L1876.3,1108.1 M1917.3,1095.9 L1920.2,1094.9 L1923.2,1093.9 L1926.1,1092.8 L1929.0,1091.7 L1932.0,1090.7 L1934.9,1089.6 L1937.8,1088.6 L1940.8,1087.6 L1943.7,1086.6 L1946.6,1085.6 L1949.6,1084.7 L1952.5,1083.8 L1955.5,1083.0 L1958.4,1082.2 M2001.4,1088.2 L2004.2,1089.5 L2007.0,1090.9 L2009.8,1092.3 L2012.6,1093.7 L2015.3,1095.2 L2018.1,1096.6 L2020.8,1098.1 L2023.5,1099.7 L2026.2,1101.2 L2028.9,1102.8 L2031.5,1104.4 L2034.0,1106.0 L2036.5,1107.7 L2039.0,1109.4 M2061.3,1148.9 L2062.5,1151.9 L2063.7,1154.9 L2064.9,1157.9 L2066.1,1160.9 L2067.3,1163.9 L2068.4,1166.9 L2069.6,1169.9 L2070.7,1172.9 L2071.9,1175.9 L2073.1,1178.9 L2074.2,1181.9 L2075.4,1184.9 L2076.6,1187.9 M2097.4,1228.3 L2099.7,1230.0 L2102.1,1231.7 L2104.6,1233.3 L2107.1,1234.9 L2109.7,1236.4 L2112.3,1238.0 L2114.9,1239.5 L2117.6,1241.0 L2120.2,1242.5 L2122.9,1243.9 L2125.6,1245.4 L2128.3,1246.8 L2130.9,1248.3 L2133.6,1249.7 M2172.6,1270.0 L2174.8,1272.3 L2177.1,1274.7 L2179.3,1277.0 L2181.7,1279.2 L2184.1,1281.2 L2186.6,1283.1 L2189.2,1284.7 L2192.0,1286.2 L2194.8,1287.5 L2197.8,1288.7 L2200.8,1289.8 L2203.9,1290.7 L2207.0,1291.6 L2210.2,1292.4 M2249.8,1310.4 L2252.3,1312.4 L2254.8,1314.3 L2257.2,1316.4 L2259.6,1318.4 L2262.0,1320.5 L2264.4,1322.5 L2266.7,1324.6 L2269.1,1326.8 L2271.5,1328.9 L2273.9,1331.0 L2276.2,1333.1 L2278.6,1335.2 L2281.0,1337.2 M2316.0,1364.7 L2318.8,1366.1 L2321.7,1367.5 L2324.5,1368.8 L2327.4,1370.1 L2330.3,1371.4 L2333.2,1372.7 L2336.1,1374.0 L2339.0,1375.3 L2341.9,1376.6 L2344.8,1377.9 L2347.7,1379.2 L2350.5,1380.5 L2353.4,1381.8 L2356.2,1383.1 M2385.1,1410.4 L2387.3,1411.5 L2389.6,1412.3 L2392.4,1412.6"/>
<path stroke="#1B7C3D" d="M279.5,1296.0 L282.0,1298.0 L284.4,1300.0 L286.9,1302.0 L289.3,1304.0 L291.7,1306.0 L294.2,1308.1 L296.6,1310.1 L299.0,1312.2 L301.4,1314.2 L303.8,1316.3 L306.2,1318.3 L308.6,1320.4 L311.0,1322.5 M343.0,1353.1 L345.3,1355.1 L347.6,1357.1 L349.9,1359.1 L352.1,1361.0 L354.4,1363.0 L356.7,1365.0 L359.0,1367.0 L361.3,1368.9 L363.6,1370.9 L365.9,1372.9 L368.2,1374.9 L370.4,1376.9 L372.7,1378.9 L375.0,1380.9 M405.7,1413.8 L407.9,1415.8 L410.1,1417.9 L412.3,1420.0 L414.5,1422.0 L416.7,1424.1 L418.9,1426.2 L421.1,1428.2 L423.4,1430.2 L425.6,1432.3 L427.9,1434.3 L430.1,1436.3 L432.4,1438.3 L434.7,1440.2 L436.9,1442.2 M473.8,1466.3 L476.7,1467.5 L479.5,1468.7 L482.4,1469.9 L485.2,1471.1 L488.1,1472.3 L491.0,1473.4 L493.9,1474.6 L496.8,1475.7 L499.6,1476.9 L502.5,1478.0 L505.4,1479.2 L508.3,1480.3 L511.2,1481.5 L514.1,1482.7 M554.0,1500.9 L556.9,1502.0 L559.8,1503.0 L562.7,1504.0 L565.6,1505.1 L568.5,1506.1 L571.5,1507.1 L574.4,1508.1 L577.3,1509.1 L580.2,1510.1 L583.2,1511.1 L586.1,1512.2 L589.0,1513.2 L591.9,1514.2 L594.8,1515.3 M633.9,1533.3 L636.7,1534.6 L639.6,1536.0 L642.4,1537.2 L645.3,1538.4 L648.3,1539.6 L651.2,1540.6 L654.2,1541.6 L657.2,1542.5 L660.2,1543.3 L663.2,1544.1 L666.3,1544.7 L669.3,1545.3 L672.4,1545.7 L675.6,1546.1 M718.7,1536.2 L721.3,1534.5 L723.9,1532.7 L726.5,1530.9 L729.0,1529.0 L731.6,1527.0 L734.1,1525.1 L736.6,1523.0 L739.1,1521.0 L741.6,1519.0 L744.1,1516.9 L746.5,1514.9 L749.0,1512.9 L751.5,1510.9 M786.1,1483.3 L788.8,1481.8 L791.7,1480.5 L794.5,1479.2 L797.4,1478.0 L800.3,1476.9 L803.3,1476.0 L806.2,1475.2 L809.2,1474.5 L812.3,1473.9 L815.3,1473.4 L818.4,1473.0 L821.5,1472.7 L824.7,1472.5 L827.8,1472.5 M871.0,1477.6 L874.1,1478.1 L877.2,1478.5 L880.3,1479.0 L883.4,1479.4 L886.5,1479.9 L889.6,1480.3 L892.7,1480.8 L895.8,1481.3 L898.8,1481.8 L901.9,1482.3 L905.0,1482.8 L908.0,1483.4 L911.1,1483.9 L914.1,1484.6 M954.4,1502.8 L957.2,1504.3 L960.0,1505.7 L962.8,1507.1 L965.6,1508.3 L968.5,1509.5 L971.3,1510.6 L974.2,1511.6 L977.2,1512.5 L980.2,1513.3 L983.2,1514.0 L986.2,1514.6 L989.2,1515.2 L992.3,1515.6 L995.4,1515.9 M1038.8,1513.3 L1041.7,1512.3 L1044.5,1511.3 L1047.4,1510.3 L1050.3,1509.2 L1053.2,1508.1 L1056.0,1506.9 L1058.9,1505.7 L1061.7,1504.4 L1064.5,1503.1 L1067.3,1501.8 L1070.1,1500.5 L1072.9,1499.2 L1075.6,1497.8 L1078.3,1496.5 M1111.2,1466.5 L1113.7,1463.8 L1116.3,1461.4 L1119.0,1459.3 L1121.7,1457.6 L1124.4,1456.2 L1127.2,1455.3 L1130.0,1454.9 L1132.9,1455.0 L1135.8,1455.6 L1138.8,1456.6 L1141.8,1457.9 L1144.8,1459.5 L1147.9,1461.4 M1187.7,1481.0 L1190.7,1481.8 L1193.7,1482.5 L1196.8,1483.2 L1199.8,1483.7 L1202.9,1484.1 L1205.9,1484.4 L1209.0,1484.5 L1212.1,1484.5 L1215.1,1484.4 L1218.2,1484.2 L1221.3,1483.9 L1224.4,1483.6 L1227.5,1483.1 L1230.6,1482.6 M1276.0,1480.5 L1279.0,1481.1 L1282.0,1482.0 L1284.9,1483.0 L1287.8,1484.1 L1290.6,1485.4 L1293.3,1486.8 L1295.9,1488.3 L1298.5,1490.0 L1301.1,1491.8 L1303.5,1493.7 L1306.0,1495.7 L1308.3,1497.8 L1310.6,1499.9 M1342.8,1533.3 L1344.8,1535.9 L1346.7,1538.5 L1348.7,1541.1 L1350.6,1543.7 L1352.5,1546.3 L1354.4,1549.0 L1356.3,1551.6 L1358.1,1554.3 L1360.0,1557.0 L1361.8,1559.7 L1363.6,1562.4 L1365.4,1565.1 L1367.2,1567.8 M1387.8,1606.5 L1390.2,1609.2 L1392.8,1611.6 L1395.4,1613.7 L1398.1,1615.5 L1400.8,1617.0 L1403.6,1618.1 L1406.4,1618.7 L1409.3,1619.0 L1412.2,1618.7 L1415.1,1618.1 L1418.1,1617.1 L1421.0,1615.7 L1423.9,1614.1 L1426.8,1612.1 M1450.6,1574.5 L1451.7,1571.8 L1452.9,1569.0 L1454.0,1566.2 L1455.1,1563.4 L1456.2,1560.6 L1457.3,1557.8 L1458.3,1555.0 L1459.4,1552.2 L1460.5,1549.4 L1461.5,1546.6 L1462.6,1543.8 L1463.6,1541.0 L1464.6,1538.2 L1465.7,1535.4 M1477.7,1492.4 L1478.6,1489.3 L1479.4,1486.2 L1480.3,1483.1 L1481.1,1480.0 L1482.0,1476.9 L1482.8,1473.8 L1483.6,1470.7 L1484.5,1467.6 L1485.3,1464.5 L1486.2,1461.4 L1487.0,1458.2 L1487.8,1455.1 L1488.6,1452.0 M1500.0,1407.5 L1500.8,1404.4 L1501.5,1401.3 L1502.3,1398.2 L1503.0,1395.1 L1503.8,1392.0 L1504.5,1388.9 L1505.2,1385.8 L1506.0,1382.7 L1506.7,1379.6 L1507.5,1376.5 L1508.2,1373.4 L1509.0,1370.3 L1509.7,1367.2 M1520.8,1323.5 L1521.5,1320.3 L1522.2,1317.2 L1522.9,1314.1 L1523.6,1311.0 L1524.3,1307.8 L1525.0,1304.7 L1525.6,1301.6 L1526.3,1298.4 L1527.0,1295.3 L1527.7,1292.2 L1528.4,1289.1 L1529.1,1285.9 L1529.8,1282.8 M1541.0,1239.0 L1542.0,1236.1 L1542.9,1233.2 L1543.9,1230.4 L1544.8,1227.5 L1545.8,1224.7 L1546.7,1221.8 L1547.7,1219.0 L1548.7,1216.1 L1549.7,1213.3 L1550.6,1210.4 L1551.6,1207.6 L1552.6,1204.7 L1553.6,1201.9 L1554.6,1199.0 M1573.8,1157.3 L1576.1,1154.4 L1578.6,1151.8 L1581.1,1149.5 L1583.8,1147.4 L1586.5,1145.8 L1589.3,1144.5 L1592.1,1143.6 L1595.0,1143.1 L1597.8,1143.2 L1600.8,1143.7 L1603.8,1144.6 L1606.8,1145.9 L1609.8,1147.5 M1639.7,1181.8 L1640.9,1184.8 L1642.1,1187.7 L1643.2,1190.7 L1644.3,1193.6 L1645.3,1196.6 L1646.4,1199.6 L1647.4,1202.6 L1648.5,1205.7 L1649.5,1208.7 L1650.5,1211.7 L1651.5,1214.7 L1652.5,1217.7 L1653.6,1220.8 M1668.4,1264.5 L1670.0,1267.1 L1671.6,1269.8 L1673.3,1272.4 L1674.9,1275.0 L1676.6,1277.7 L1678.4,1280.3 L1680.1,1282.8 L1681.9,1285.4 L1683.7,1287.9 L1685.5,1290.4 L1687.4,1292.8 L1689.3,1295.2 L1691.2,1297.5 M1731.6,1318.1 L1734.5,1319.1 L1737.5,1319.9 L1740.5,1320.8 L1743.5,1321.5 L1746.5,1322.1 L1749.5,1322.7 L1752.5,1323.1 L1755.5,1323.4 L1758.6,1323.7 L1761.6,1323.8 L1764.7,1324.0 L1767.8,1324.1 L1770.8,1324.2 L1773.9,1324.3 M1812.3,1338.9 L1815.3,1338.7 L1818.3,1338.3 L1821.3,1337.9 L1824.4,1337.5 L1827.4,1336.9 L1830.4,1336.4 L1833.4,1335.8 L1836.4,1335.2 L1839.4,1334.5 L1842.4,1333.9 L1845.3,1333.2 L1848.3,1332.4 L1851.2,1331.7 L1854.2,1330.9 M1894.4,1310.7 L1897.1,1309.4 L1899.8,1308.0 L1902.4,1306.6 L1905.1,1305.2 L1907.8,1303.8 L1910.4,1302.4 L1913.1,1301.0 L1915.8,1299.5 L1918.5,1298.1 L1921.1,1296.7 L1923.8,1295.3 L1926.5,1294.0 L1929.2,1292.6 L1931.9,1291.2 M1973.0,1274.7 L1976.2,1274.6 L1979.3,1274.8 L1982.4,1275.1 L1985.4,1275.6 L1988.3,1276.4 L1991.0,1277.3 L1993.7,1278.5 L1996.2,1280.0 L1998.7,1281.7 L2001.1,1283.6 L2003.4,1285.7 L2005.6,1288.0 L2007.7,1290.4 L2009.8,1293.0 M2037.6,1328.7 L2038.9,1331.6 L2040.3,1334.4 L2041.6,1337.3 L2042.8,1340.3 L2044.1,1343.2 L2045.3,1346.1 L2046.6,1349.1 L2047.8,1352.0 L2049.0,1355.0 L2050.2,1357.9 L2051.4,1360.9 L2052.6,1363.9 L2053.8,1366.8 M2068.3,1410.7 L2069.0,1413.8 L2069.8,1416.8 L2070.5,1419.9 L2071.2,1422.9 L2071.9,1426.0 L2072.7,1429.1 L2073.4,1432.1 L2074.1,1435.2 L2074.8,1438.3 L2075.5,1441.3 L2076.3,1444.4 L2077.1,1447.4 L2077.9,1450.4 M2096.2,1492.8 L2098.1,1495.2 L2100.0,1497.7 L2102.0,1500.1 L2103.9,1502.5 L2105.9,1504.8 L2108.0,1507.2 L2110.0,1509.6 L2112.1,1511.9 L2114.1,1514.2 L2116.2,1516.5 L2118.3,1518.8 L2120.4,1521.1 L2122.5,1523.4 M2158.6,1552.9 L2161.1,1554.8 L2163.5,1556.7 L2166.0,1558.6 L2168.5,1560.6 L2170.9,1562.5 L2173.4,1564.4 L2175.9,1566.3 L2178.4,1568.2 L2180.8,1570.1 L2183.3,1572.0 L2185.8,1573.9 L2188.3,1575.8 L2190.8,1577.7 M2228.4,1605.0 L2230.8,1606.9 L2233.3,1608.7 L2235.7,1610.6 L2238.2,1612.5 L2240.7,1614.3 L2243.1,1616.2 L2245.6,1618.1 L2248.0,1620.0 L2250.4,1621.9 L2252.9,1623.7 L2255.3,1625.6 L2257.7,1627.6 L2260.2,1629.5 M2294.3,1661.2 L2296.8,1663.1 L2299.3,1665.0 L2301.8,1666.9 L2304.3,1668.8 L2306.8,1670.7 L2309.4,1672.6 L2311.9,1674.5 L2314.4,1676.4 L2316.9,1678.3 L2319.5,1680.2 L2322.0,1682.1 L2324.5,1684.0 L2327.0,1685.9 M2363.2,1712.0 L2366.1,1713.4 L2369.0,1714.7 L2371.9,1716.1 L2374.8,1717.4 L2377.7,1718.7 L2380.6,1720.0 L2383.6,1721.2 L2386.5,1722.4 L2389.5,1723.6 L2392.5,1724.8"/>
<path stroke="#2B6A99" d="M278.5,930.5 L281.1,932.2 L283.7,934.0 L286.1,935.9 L288.6,937.8 L291.0,939.8 L293.3,941.8 L295.6,943.9 L297.8,946.1 L299.9,948.3 L302.1,950.5 L304.2,952.8 L306.2,955.2 L308.3,957.5 M340.8,991.0 L343.2,993.2 L345.6,995.3 L348.0,997.5 L350.4,999.6 L352.8,1001.7 L355.3,1003.9 L357.7,1006.0 L360.1,1008.1 L362.5,1010.3 L365.0,1012.4 L367.4,1014.5 L369.8,1016.7 L372.2,1018.8 M402.8,1051.7 L404.9,1054.1 L407.0,1056.5 L409.1,1059.1 L411.1,1061.6 L413.2,1064.1 L415.3,1066.6 L417.4,1069.1 L419.5,1071.5 L421.6,1073.9 L423.8,1076.1 L426.0,1078.3 L428.3,1080.4 L430.6,1082.3 M471.0,1087.0 L473.5,1085.5 L475.9,1083.9 L478.4,1082.1 L480.7,1080.2 L483.1,1078.1 L485.4,1076.0 L487.8,1073.9 L490.1,1071.8 L492.4,1069.7 L494.8,1067.6 L497.1,1065.7 L499.5,1063.8 L501.9,1062.1 L504.4,1060.6 M547.5,1059.1 L550.7,1059.5 L553.8,1060.0 L556.9,1060.5 L560.1,1061.0 L563.2,1061.5 L566.4,1062.1 L569.5,1062.6 L572.6,1063.2 L575.7,1063.8 L578.8,1064.4 L581.9,1065.0 L585.0,1065.6 L588.1,1066.2 L591.2,1066.8 M633.0,1080.8 L635.9,1082.2 L638.9,1083.5 L641.8,1084.6 L644.8,1085.7 L647.8,1086.6 L650.8,1087.3 L653.9,1087.8 L656.9,1088.0 L660.0,1088.1 L663.1,1088.0 L666.2,1087.8 L669.3,1087.5 L672.5,1086.9 L675.6,1086.3 M713.1,1063.4 L715.1,1061.1 L717.0,1058.8 L718.9,1056.5 L720.7,1054.2 L722.6,1051.8 L724.4,1049.4 L726.2,1047.0 L728.0,1044.6 L729.8,1042.1 L731.6,1039.7 L733.4,1037.2 L735.2,1034.8 L736.9,1032.4 L738.7,1029.9 M761.8,992.5 L763.5,990.0 L765.2,987.5 L766.9,985.0 L768.7,982.5 L770.4,980.0 L772.1,977.5 L773.8,975.0 L775.5,972.5 L777.3,970.0 L779.0,967.5 L780.8,965.0 L782.5,962.5 L784.3,960.0 L786.0,957.6 M815.4,924.1 L818.0,922.2 L820.8,920.5 L823.6,918.9 L826.4,917.5 L829.3,916.2 L832.3,915.1 L835.3,914.2 L838.3,913.4 L841.4,912.7 L844.6,912.1 L847.7,911.7 L851.0,911.4 L854.2,911.3 M897.4,922.0 L900.2,923.3 L903.0,924.5 L905.8,925.9 L908.5,927.3 L911.2,928.8 L913.8,930.4 L916.4,932.0 L919.0,933.6 L921.5,935.3 L924.0,937.1 L926.5,938.9 L928.9,940.8 L931.3,942.7 L933.6,944.7 M962.4,980.6 L964.0,983.2 L965.7,985.8 L967.4,988.4 L969.0,991.0 L970.7,993.6 L972.3,996.2 L973.9,998.9 L975.6,1001.5 L977.2,1004.1 L978.8,1006.8 L980.4,1009.4 L982.0,1012.1 L983.5,1014.7 M1003.4,1056.3 L1005.0,1059.0 L1006.6,1061.7 L1008.3,1064.4 L1009.9,1067.0 L1011.6,1069.7 L1013.3,1072.4 L1015.0,1075.0 L1016.7,1077.6 L1018.4,1080.3 L1020.1,1082.9 L1021.8,1085.5 L1023.6,1088.1 L1025.3,1090.7 M1054.7,1124.8 L1057.0,1126.9 L1059.4,1128.9 L1061.9,1130.8 L1064.4,1132.5 L1067.1,1134.0 L1069.7,1135.2 L1072.5,1136.2 L1075.3,1137.1 L1078.2,1137.7 L1081.2,1138.2 L1084.2,1138.6 L1087.3,1138.9 L1090.4,1139.0 L1093.6,1139.0 M1136.2,1146.2 L1138.5,1147.9 L1140.9,1149.6 L1143.1,1151.5 L1145.4,1153.4 L1147.6,1155.4 L1149.8,1157.4 L1152.0,1159.5 L1154.2,1161.6 L1156.4,1163.7 L1158.6,1165.8 L1160.8,1168.0 L1163.0,1170.1 L1165.2,1172.1 L1167.4,1174.1 M1203.6,1200.0 L1206.5,1201.2 L1209.5,1202.3 L1212.5,1203.3 L1215.5,1204.3 L1218.5,1205.1 L1221.6,1205.9 L1224.7,1206.5 L1227.8,1207.0 L1231.0,1207.5 L1234.1,1207.9 L1237.3,1208.2 L1240.4,1208.4 L1243.6,1208.4 L1246.7,1208.4 M1282.9,1183.9 L1285.0,1181.5 L1287.1,1179.1 L1289.2,1176.7 L1291.3,1174.3 L1293.3,1171.8 L1295.4,1169.4 L1297.4,1166.9 L1299.4,1164.4 L1301.4,1161.9 L1303.4,1159.4 L1305.4,1156.9 L1307.4,1154.4 L1309.3,1151.9 M1345.5,1122.4 L1347.3,1124.6 L1349.2,1126.8 L1351.0,1129.0 L1352.8,1131.3 L1354.6,1133.6 L1356.4,1136.0 L1358.1,1138.4 L1359.8,1140.7 L1361.6,1143.2 L1363.3,1145.6 L1365.0,1148.0 L1366.6,1150.5 L1368.3,1152.9 L1369.9,1155.4 L1371.5,1157.9 M1392.4,1198.2 L1394.6,1200.5 L1397.0,1202.7 L1399.4,1204.8 L1402.0,1206.6 L1404.6,1208.1 L1407.3,1209.4 L1410.1,1210.4 L1412.9,1211.0 L1415.8,1211.3 L1418.9,1211.4 L1421.9,1211.3 L1425.0,1211.0 L1428.0,1210.4 L1431.0,1209.6 M1456.0,1170.7 L1457.0,1167.6 L1457.9,1164.5 L1458.8,1161.4 L1459.7,1158.3 L1460.6,1155.2 L1461.4,1152.1 L1462.3,1149.0 L1463.1,1145.9 L1463.9,1142.7 L1464.7,1139.6 L1465.6,1136.5 L1466.4,1133.4 L1467.2,1130.3 M1475.6,1085.8 L1476.2,1082.7 L1476.9,1079.6 L1477.5,1076.5 L1478.1,1073.4 L1478.8,1070.3 L1479.4,1067.1 L1480.1,1064.0 L1480.7,1060.9 L1481.3,1057.8 L1482.0,1054.7 L1482.6,1051.6 L1483.2,1048.5 L1483.8,1045.4 M1490.3,1000.9 L1490.8,997.9 L1491.3,994.9 L1491.7,991.8 L1492.2,988.8 L1492.7,985.8 L1493.2,982.8 L1493.6,979.8 L1494.1,976.7 L1494.6,973.7 L1495.0,970.7 L1495.5,967.7 L1496.0,964.7 L1496.4,961.6 L1496.9,958.6 M1502.6,914.6 L1503.2,911.7 L1503.7,908.7 L1504.2,905.7 L1504.7,902.7 L1505.3,899.7 L1505.8,896.7 L1506.4,893.8 L1506.9,890.8 L1507.5,887.8 L1508.0,884.8 L1508.6,881.8 L1509.1,878.8 L1509.6,875.9 L1510.1,872.9 M1515.9,829.6 L1516.4,826.6 L1517.0,823.6 L1517.5,820.6 L1518.0,817.6 L1518.5,814.6 L1519.1,811.6 L1519.6,808.6 L1520.1,805.6 L1520.7,802.6 L1521.2,799.6 L1521.8,796.6 L1522.3,793.6 L1522.8,790.7 L1523.4,787.7 M1531.3,743.2 L1532.0,740.2 L1532.7,737.2 L1533.4,734.3 L1534.1,731.3 L1534.8,728.3 L1535.5,725.3 L1536.2,722.3 L1537.0,719.4 L1537.7,716.4 L1538.5,713.4 L1539.2,710.5 L1540.0,707.5 L1540.7,704.5 L1541.5,701.5 M1555.4,659.8 L1556.6,657.0 L1557.9,654.3 L1559.2,651.6 L1560.5,648.8 L1561.8,646.1 L1563.1,643.4 L1564.5,640.7 L1565.8,638.0 L1567.2,635.3 L1568.6,632.6 L1570.0,629.9 L1571.4,627.2 L1572.9,624.6 L1574.3,621.9 M1613.2,602.7 L1616.1,603.8 L1619.0,605.1 L1621.7,606.6 L1624.4,608.1 L1627.1,609.7 L1629.7,611.4 L1632.2,613.2 L1634.7,615.0 L1637.1,616.9 L1639.4,618.9 L1641.7,621.0 L1643.9,623.2 L1646.0,625.5 L1648.0,627.8 M1670.3,665.3 L1672.0,668.0 L1673.7,670.6 L1675.5,673.0 L1677.5,675.4 L1679.5,677.6 L1681.6,679.7 L1683.9,681.7 L1686.3,683.5 L1688.8,685.1 L1691.4,686.7 L1694.1,688.1 L1697.0,689.3 L1699.9,690.4 L1702.9,691.2 M1747.4,695.9 L1750.1,698.6 L1752.9,701.1 L1755.5,703.5 L1758.2,705.7 L1760.9,707.6 L1763.5,709.2 L1766.1,710.3 L1768.7,711.1 L1771.3,711.3 L1774.0,710.9 L1776.6,709.9 L1779.1,708.2 L1781.8,706.3 L1784.4,704.3 M1826.2,702.8 L1829.3,702.5 L1832.3,702.1 L1835.4,701.7 L1838.4,701.3 L1841.5,700.8 L1844.5,700.4 L1847.6,699.9 L1850.6,699.4 L1853.7,698.9 L1856.7,698.4 L1859.8,697.9 L1862.8,697.4 L1865.9,696.9 L1868.9,696.4 M1911.1,690.1 L1914.1,689.4 L1917.1,688.7 L1920.0,688.0 L1923.0,687.3 L1926.0,686.5 L1928.9,685.8 L1931.9,685.0 L1934.9,684.2 L1937.8,683.5 L1940.8,682.8 L1943.8,682.1 L1946.8,681.4 L1949.8,680.7 L1952.8,680.1 M1993.0,692.7 L1995.9,694.0 L1998.7,695.2 L2001.6,696.5 L2004.6,697.6 L2007.5,698.8 L2010.5,699.9 L2013.4,701.1 L2016.3,702.2 L2019.3,703.3 L2022.2,704.5 L2025.1,705.7 L2027.9,706.9 L2030.8,708.1 L2033.5,709.4 M2063.8,742.8 L2065.4,745.3 L2066.9,747.9 L2068.5,750.4 L2070.0,753.0 L2071.5,755.6 L2073.0,758.2 L2074.5,760.8 L2076.0,763.4 L2077.6,765.9 L2079.1,768.5 L2080.7,771.0 L2082.3,773.4 L2084.0,775.8 L2085.6,778.2 M2121.0,799.7 L2123.9,801.0 L2126.9,802.2 L2129.8,803.4 L2132.8,804.4 L2135.8,805.3 L2138.8,806.2 L2141.9,806.9 L2145.0,807.6 L2148.1,808.1 L2151.2,808.6 L2154.3,809.1 L2157.4,809.5 L2160.6,809.9 L2163.7,810.3 M2201.3,826.6 L2204.3,826.3 L2207.4,826.0 L2210.5,825.8 L2213.5,825.7 L2216.6,825.6 L2219.7,825.6 L2222.7,825.7 L2225.7,826.1 L2228.8,826.5 L2231.8,827.1 L2234.8,827.8 L2237.8,828.7 L2240.7,829.6 L2243.6,830.7 M2279.7,854.3 L2282.2,856.2 L2284.8,858.1 L2287.3,860.0 L2289.9,861.9 L2292.4,863.7 L2295.0,865.6 L2297.5,867.5 L2300.1,869.3 L2302.7,871.2 L2305.2,873.0 L2307.9,874.8 L2310.5,876.5 L2313.1,878.2 M2353.5,895.5 L2356.0,897.4 L2358.4,899.4 L2360.6,901.6 L2362.7,903.8 L2364.6,906.2 L2366.3,908.7 L2367.9,911.3 L2369.3,913.9 L2370.6,916.7 L2371.7,919.6 L2372.6,922.6 L2373.4,925.6 L2374.0,928.8"/>
</g>
<g stroke="#262626" stroke-width="2.5" fill="none" stroke-linecap="butt">
<path d="M266.7,23.1 L266.7,1750.4 L2404.5,1750.4" stroke-linejoin="miter"/>
<path d="M277.4,1750.4 L277.4,1730.0"/>
<path d="M693.5,1750.4 L693.5,1730.0"/>
<path d="M1109.5,1750.4 L1109.5,1730.0"/>
<path d="M1536,1750.4 L1536,1730.0"/>
<path d="M1952,1750.4 L1952,1730.0"/>
<path d="M2367.6,1750.4 L2367.6,1730.0"/>
<path d="M266.7,154.8 L287.09999999999997,154.8"/>
<path d="M266.7,421.2 L287.09999999999997,421.2"/>
<path d="M266.7,687.5 L287.09999999999997,687.5"/>
<path d="M266.7,953.9 L287.09999999999997,953.9"/>
<path d="M266.7,1220.2 L287.09999999999997,1220.2"/>
<path d="M266.7,1486.5 L287.09999999999997,1486.5"/>
</g>
<g font-family="'Liberation Sans', sans-serif" fill="#303030">
<g font-size="61.8" text-anchor="middle">
<text x="278.1" y="1836.3">400</text>
<text x="692.1" y="1836.3">500</text>
<text x="1107.9" y="1836.3">600</text>
<text x="1536.6" y="1836.3">700</text>
<text x="1950.4" y="1836.3">800</text>
<text x="2366.0" y="1836.3">900</text>
</g>
<g font-size="61.8" text-anchor="end">
<text x="240.3" y="179.4">0.7</text>
<text x="240.3" y="446.8">0.6</text>
<text x="240.3" y="711.8">0.5</text>
<text x="240.3" y="976.5">0.4</text>
<text x="240.3" y="1241.8">0.3</text>
<text x="240.3" y="1508.6">0.2</text>
<text x="240.3" y="1775.4">0.1</text>
</g>
<text x="1337" y="1920" font-size="68.2" text-anchor="middle">wavelength(nm)</text>
<text transform="translate(100.8,862.6) rotate(-90) scale(1,1.03)" font-size="93" text-anchor="middle">|r|</text>
</g>
<g font-family="'Liberation Sans', sans-serif" fill="#111" font-size="68">
<path d="M355,108.5 L523.5,108.5" stroke="#E29C7C" stroke-width="11.8" fill="none"/>
<path d="M355,226.5 L400.7,226.5 M442.3,226.5 L487.8,226.5" stroke="#F16C23" stroke-width="11.8" fill="none"/>
<text transform="translate(536.5,130.6) scale(1.006,1.05)">TN - Dataset0</text>
<text transform="translate(536.5,253.3) scale(1.006,1.05)">TP - Dataset0</text>
<path d="M1081,106.1 L1250,106.1" stroke="#82B39B" stroke-width="11.8" fill="none"/>
<path d="M1081,229.4 L1126.7,229.4 M1169.0,229.4 L1214.2,229.4" stroke="#1B7C3D" stroke-width="11.8" fill="none"/>
<text transform="translate(1262.8,130.6) scale(1.006,1.05)">TN - Dataset1</text>
<text transform="translate(1262.8,253.3) scale(1.006,1.05)">TP - Dataset1</text>
<path d="M1806.4,107.1 L1976,107.1" stroke="#8AA9D4" stroke-width="11.8" fill="none"/>
<path d="M1806.4,228.0 L1852.1000000000001,228.0 M1895.1000000000001,228.0 L1940.0,228.0" stroke="#2B6A99" stroke-width="11.8" fill="none"/>
<text transform="translate(1989.1,130.6) scale(1.006,1.05)">TN - Dataset2</text>
<text transform="translate(1989.1,253.3) scale(1.006,1.05)">TP - Dataset2</text>
</g>
</svg>
</body></html>
